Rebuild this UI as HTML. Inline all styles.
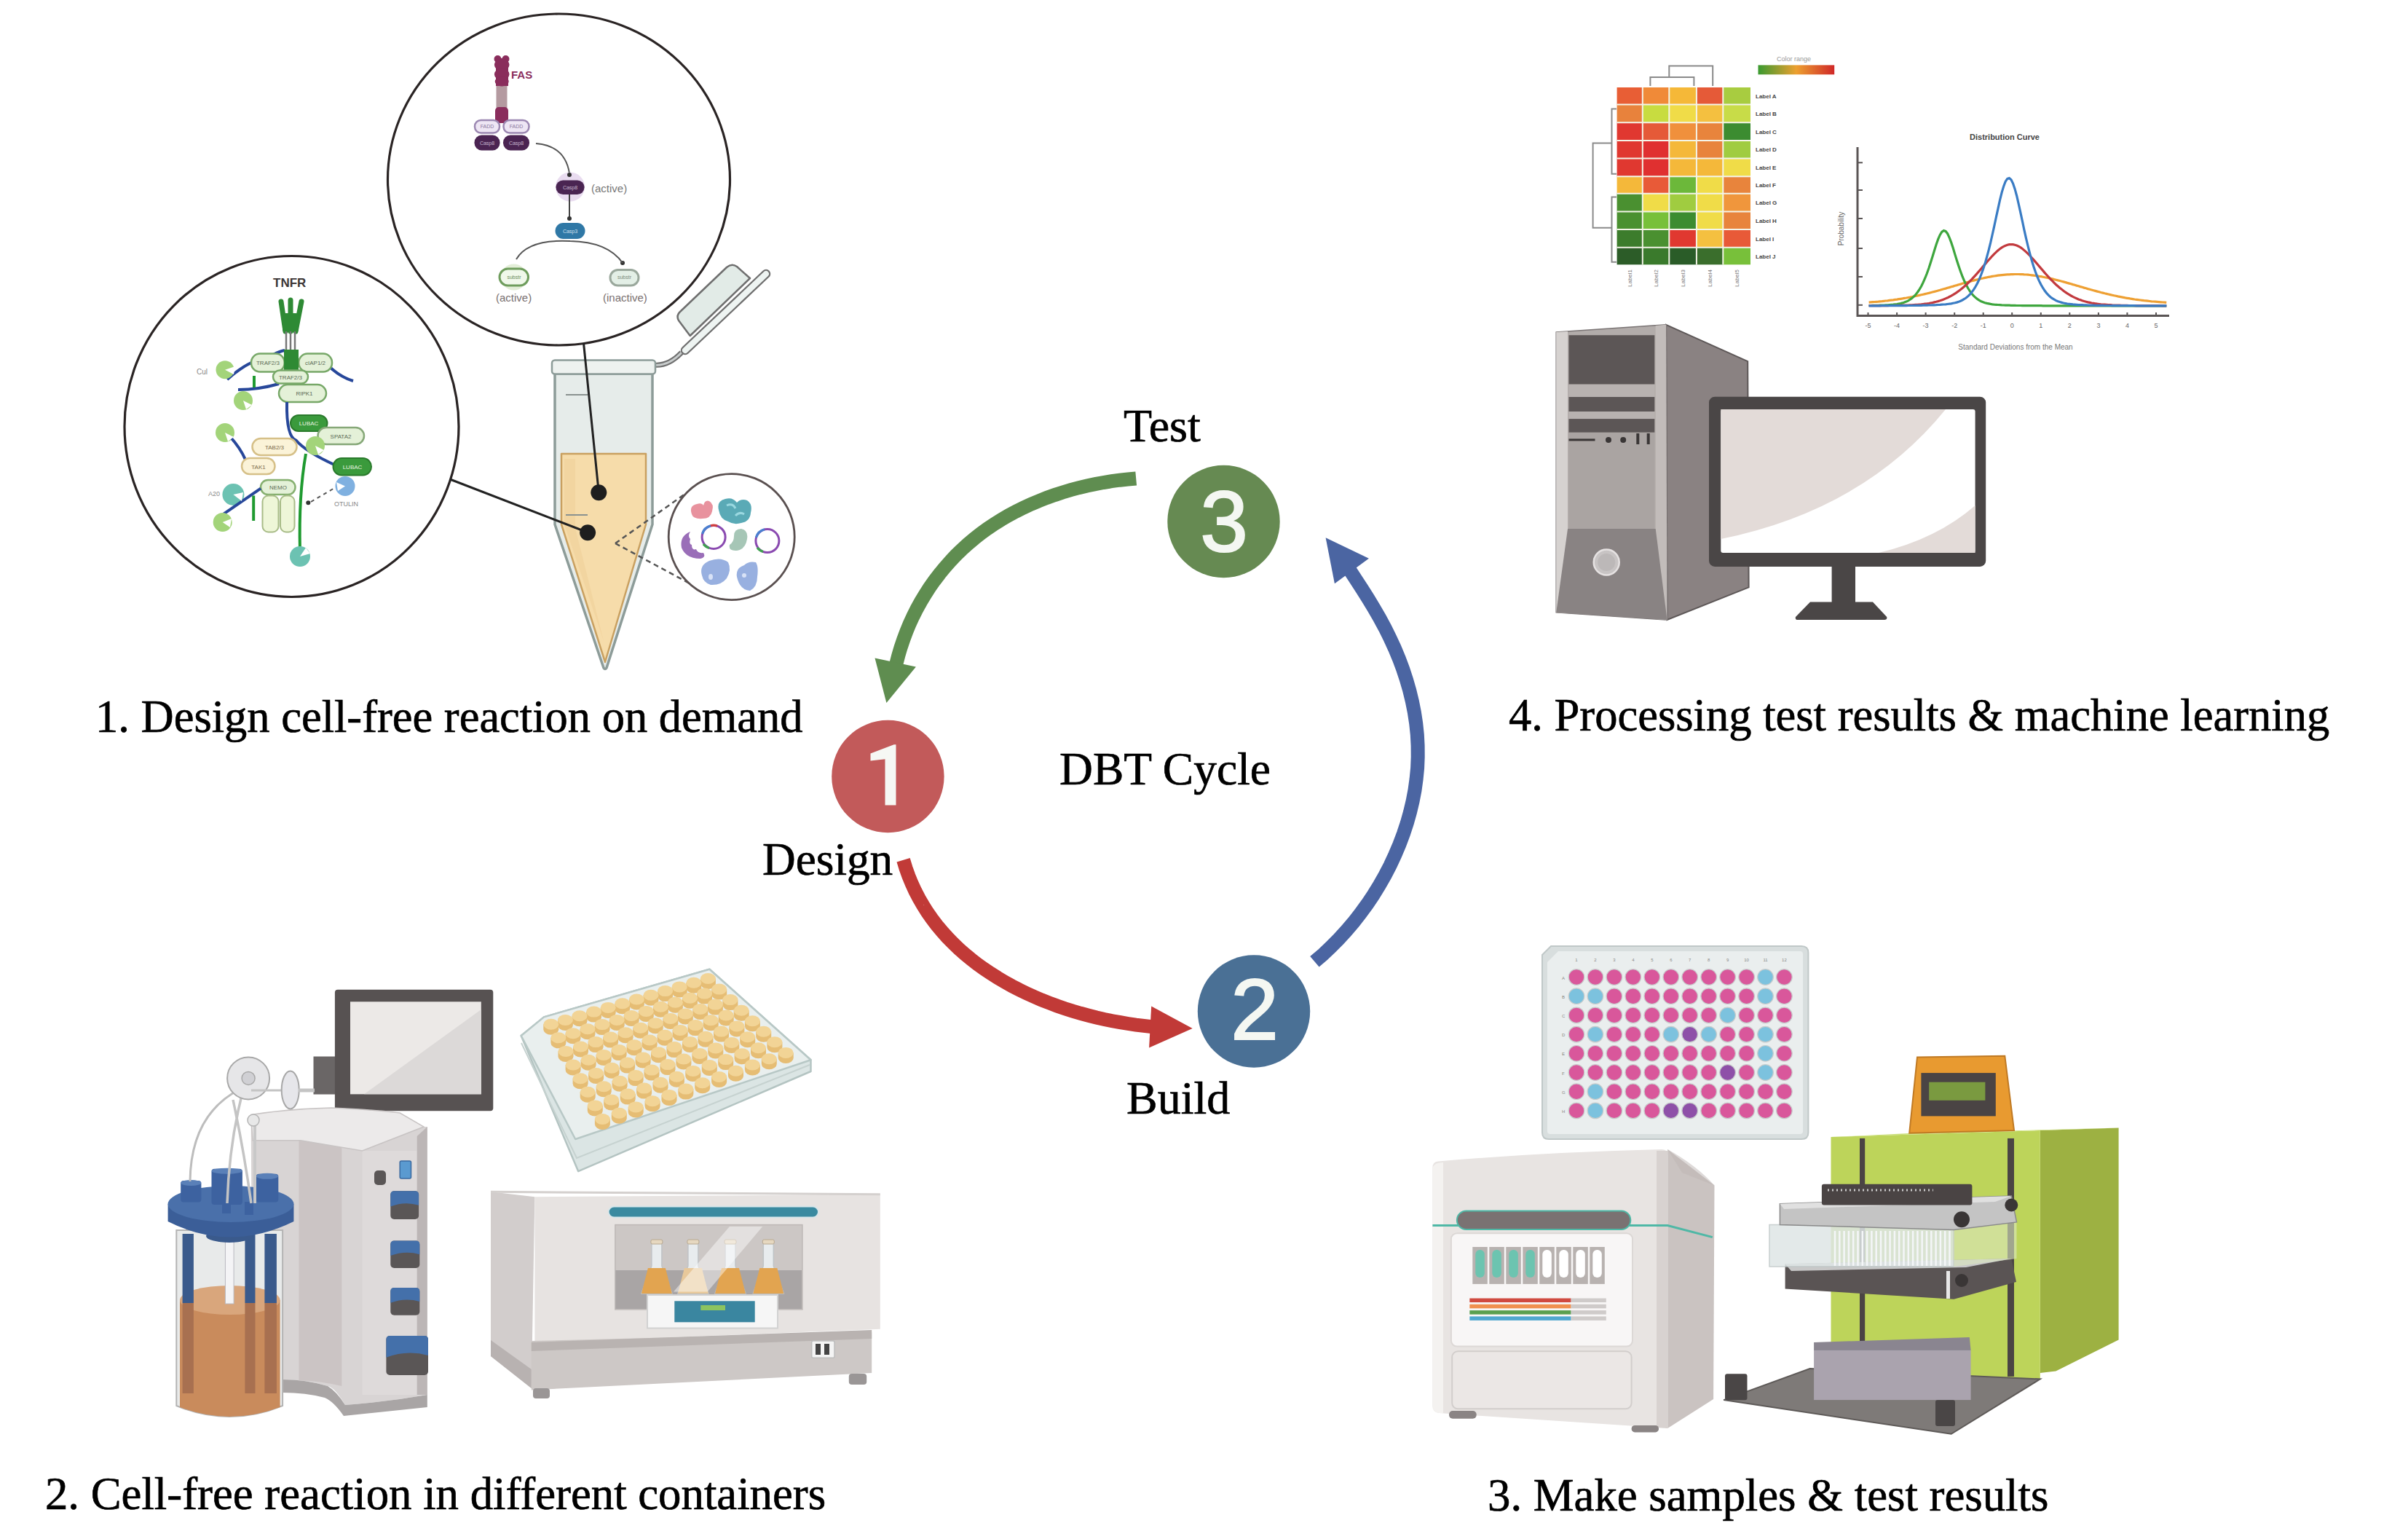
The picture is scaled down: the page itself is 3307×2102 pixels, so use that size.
<!DOCTYPE html>
<html><head><meta charset="utf-8">
<style>
html,body{margin:0;padding:0;background:#fff;}
body{width:3307px;height:2102px;overflow:hidden;position:relative;}
svg{position:absolute;left:0;top:0;}
.t{font-family:"Liberation Serif",serif;font-size:64px;fill:#000;}
.n{font-family:"Liberation Sans",sans-serif;font-size:118px;fill:#f4f7f2;text-anchor:middle;}
text{font-family:"Liberation Sans",sans-serif;}
.t{font-family:"Liberation Serif",serif;stroke:#000;stroke-width:0.7px;}
</style></head><body>
<svg width="3307" height="2102" viewBox="0 0 3307 2102">
<g id="panel1">
<!-- connector lines -->
<!-- big circles -->
<ellipse cx="767.5" cy="246.5" rx="235" ry="227.5" fill="#fff" stroke="#2a2424" stroke-width="3.2"/>
<ellipse cx="400.5" cy="585.5" rx="229.5" ry="234" fill="#fff" stroke="#2a2424" stroke-width="3.2"/>
<!-- FAS content -->
<g>
<rect x="681.5" y="118" width="15" height="30" fill="#b49aa0"/>
<rect x="681" y="80" width="17" height="38" fill="#8a2d5c"/>
<circle cx="683.5" cy="81" r="5" fill="#8a2d5c"/><circle cx="694.5" cy="81" r="5" fill="#8a2d5c"/>
<ellipse cx="689.2" cy="89" rx="10.3" ry="8" fill="#8a2d5c"/><ellipse cx="689.2" cy="102" rx="10.3" ry="8" fill="#8a2d5c"/><ellipse cx="689.2" cy="112" rx="9.5" ry="6.5" fill="#8a2d5c"/>
<rect x="680" y="147" width="18" height="22" rx="5" fill="#8a2d5c"/>
<text x="702" y="108" font-family="Liberation Sans" font-weight="bold" font-size="15" fill="#8a2d5c">FAS</text>
<rect x="652" y="165" width="34" height="17.5" rx="8.5" fill="#eee6f4" stroke="#9c88b2" stroke-width="2.5"/>
<rect x="691.5" y="165" width="35" height="17.5" rx="8.5" fill="#eee6f4" stroke="#9c88b2" stroke-width="2.5"/>
<rect x="651.5" y="185.5" width="35" height="21" rx="10" fill="#4b2452"/>
<rect x="691" y="185.5" width="36" height="21" rx="10" fill="#4b2452"/>
<path d="M736 197 Q776 200 782 238" fill="none" stroke="#555" stroke-width="2"/>
<circle cx="783" cy="256.6" r="20" fill="#e9dcf0"/>
<rect x="763.5" y="247.5" width="39" height="19.5" rx="9.7" fill="#4a2552"/>
<text x="812" y="264" font-family="Liberation Sans" font-size="15" fill="#777">(active)</text>
<line x1="782" y1="267" x2="782" y2="298" stroke="#444" stroke-width="2"/><circle cx="782" cy="300" r="3" fill="#333"/><circle cx="782" cy="240" r="3" fill="#333"/><circle cx="855" cy="361" r="3" fill="#333"/>
<rect x="762.5" y="306" width="41" height="22" rx="11" fill="#2f78a6"/>
<path d="M709 356 Q725 328 783 331 Q835 332 855 361" fill="none" stroke="#555" stroke-width="2"/>
<circle cx="705.6" cy="380.5" r="18" fill="#e3eed8"/>
<rect x="686" y="369" width="39.5" height="23" rx="11.5" fill="#f0f8ea" stroke="#6f9d5d" stroke-width="3"/>
<rect x="838" y="370.5" width="39" height="21.5" rx="10.7" fill="#e3efe6" stroke="#9aa89c" stroke-width="3"/>

<g font-family="Liberation Sans" font-size="7" text-anchor="middle">
<text x="669" y="176" fill="#8a78a0">FADD</text><text x="709" y="176" fill="#8a78a0">FADD</text>
<text x="669" y="198.5" fill="#c8b8d0">Casp8</text><text x="709" y="198.5" fill="#c8b8d0">Casp8</text>
<text x="783" y="259.5" fill="#c8b8d0">Casp8</text><text x="783" y="319.5" fill="#cfe0ee">Casp3</text>
<text x="706" y="383" fill="#6a8a5a">substr</text><text x="857.5" y="383" fill="#7a8a7a">substr</text>
</g>
<text x="681" y="414" font-family="Liberation Sans" font-size="15" fill="#7a7070">(active)</text>
<text x="828" y="414" font-family="Liberation Sans" font-size="15" fill="#7a7070">(inactive)</text>
</g>
<!-- TNFR content -->
<g>
<text x="375" y="394" font-family="Liberation Sans" font-weight="bold" font-size="17" fill="#3c3636">TNFR</text>
<path d="M386 414 L392 455 M399 412 L399 455 M414 414 L406 455" stroke="#2e8a34" stroke-width="7" stroke-linecap="round"/>
<rect x="388" y="430" width="22" height="26" rx="4" fill="#2e8a34"/>
<path d="M393 455 V505 M399 455 V505 M405 455 V505" stroke="#777" stroke-width="2.5"/>
<path d="M312 521 Q330 505 345 498 M375 487 Q385 482 391 481 M453 504 Q468 518 485 523" fill="none" stroke="#27479a" stroke-width="4"/>
<path d="M327 535 Q355 535 383 527" fill="none" stroke="#27479a" stroke-width="4"/>
<circle cx="309" cy="507.7" r="12.5" fill="#a3d47a"/>
<circle cx="334" cy="550" r="13" fill="#a3d47a"/>
<text x="270" y="514" font-family="Liberation Sans" font-size="10" fill="#888">Cul</text>
<rect x="345" y="485.5" width="45.7" height="25" rx="12" fill="#e4f1d8" stroke="#77a868" stroke-width="2.5"/>
<rect x="410.3" y="485.5" width="45.7" height="25" rx="12" fill="#e4f1d8" stroke="#77a868" stroke-width="2.5"/>
<rect x="390" y="480" width="20" height="32" fill="#2e8a34"/>
<rect x="375" y="508.5" width="48" height="18" rx="9" fill="#e4f1d8" stroke="#77a868" stroke-width="2.5"/>
<rect x="383" y="528" width="65" height="24" rx="12" fill="#e4f1d8" stroke="#77a868" stroke-width="2.5"/>
<path d="M394 552 Q393 600 407 605 Q420 620 459 638" fill="none" stroke="#27479a" stroke-width="4"/>
<path d="M349 516 V532" stroke="#1f9a30" stroke-width="4"/>
<rect x="399" y="570" width="50.5" height="22" rx="11" fill="#3a9a3c" stroke="#2a7a2c" stroke-width="2"/>
<rect x="436.5" y="587" width="63.5" height="23" rx="11.5" fill="#e4f1d8" stroke="#86a878" stroke-width="2.5"/>
<circle cx="433" cy="612" r="13" fill="#a3d47a"/>
<rect x="457.5" y="629" width="52.5" height="23.5" rx="11.7" fill="#3a9a3c" stroke="#2a7a2c" stroke-width="2"/>
<circle cx="474" cy="667.4" r="13.5" fill="#7fb0e0"/>
<circle cx="309" cy="594" r="13" fill="#a3d47a"/>
<path d="M315.5 599 Q330 615 337 631" fill="none" stroke="#27479a" stroke-width="4"/>
<rect x="346.5" y="602" width="61" height="23" rx="11.5" fill="#fbf3d8" stroke="#d6c088" stroke-width="2.5"/>
<rect x="332" y="629" width="45.5" height="22" rx="11" fill="#fbf3d8" stroke="#d6c088" stroke-width="2.5"/>
<rect x="358" y="659" width="47.5" height="20" rx="10" fill="#e4f1d8" stroke="#86b070" stroke-width="2.5"/>
<rect x="360.5" y="680.5" width="22" height="50" rx="8" fill="#eef6d8" stroke="#a8bc88" stroke-width="2"/>
<rect x="385" y="680.5" width="19.5" height="50" rx="8" fill="#eef6d8" stroke="#a8bc88" stroke-width="2"/>
<circle cx="320.4" cy="679" r="15" fill="#6cc2b2"/>
<text x="286" y="681" font-family="Liberation Sans" font-size="9" fill="#888">A20</text>
<path d="M305.7 706.6 L358 670.6" stroke="#27479a" stroke-width="4"/>
<circle cx="305.7" cy="717" r="13" fill="#a3d47a"/>
<path d="M348.2 680.5 V715" stroke="#1f9a30" stroke-width="4"/>
<path d="M420 623 Q410 680 412 756" fill="none" stroke="#1f9a30" stroke-width="4"/>
<circle cx="412" cy="764" r="14" fill="#6cc2b2"/>
<circle cx="423.3" cy="690.3" r="3" fill="#333"/>
<path d="M427 689 L461 669" stroke="#555" stroke-width="2" stroke-dasharray="5 5"/>
<text x="459" y="695" font-family="Liberation Sans" font-size="9" fill="#888">OTULIN</text>
<g font-family="Liberation Sans" font-size="8" fill="#5a6a55" text-anchor="middle">
<text x="368" y="501">TRAF2/3</text><text x="433" y="501">cIAP1/2</text><text x="399" y="520.5">TRAF2/3</text><text x="418" y="543">RIPK1</text>
<text x="424" y="584" fill="#e8f4e0">LUBAC</text><text x="468" y="601.5">SPATA2</text><text x="484" y="644" fill="#e8f4e0">LUBAC</text>
<text x="377" y="616.5" fill="#7a6a4a">TAB2/3</text><text x="355" y="643.5" fill="#7a6a4a">TAK1</text><text x="382" y="672">NEMO</text>
</g>
<g fill="#fff">
<path d="M309 507.7 L323 503 L321 514 Z"/><path d="M334 550 L346 556 L338 562 Z"/><path d="M309 594 L321 600 L313 606 Z"/>
<path d="M433 612 L445 618 L437 624 Z"/><path d="M305.7 717 L318 712 L316 724 Z"/><path d="M412 764 L420 752 L426 760 Z"/>
<path d="M474 667.4 L462 662 L464 674 Z"/><path d="M320.4 679 L334 676 L332 688 Z"/>
</g>

</g>
<!-- tube lid -->
<path d="M898 501 Q918 503 936 484" fill="none" stroke="#6f6f6f" stroke-width="7"/>
<path d="M898 501 Q918 503 936 484" fill="none" stroke="#c8cccc" stroke-width="3"/>
<path d="M941 481 L1052 376" stroke="#6f6f6f" stroke-width="12.5" stroke-linecap="round"/>
<path d="M941 481 L1052 376" stroke="#eef4f2" stroke-width="8" stroke-linecap="round"/>
<path d="M947.7 461 L932 440 Q928 433 935 427 L998 367 Q1005 361 1012 366 L1030 382 Z" fill="#e2ebe7" stroke="#6f6f6f" stroke-width="2.5" stroke-linejoin="round"/>
<!-- tube -->
<path d="M762 513 L762 720 L829 917 Q831 920 833 917 L896 720 L896 513 Z" fill="#e6ecea" stroke="#8d9c99" stroke-width="3.5"/>
<path d="M771 623 L887 623 L887 720 L831 909 L771 720 Z" fill="#f6dcaa" stroke="#c9a060" stroke-width="2.5" stroke-linejoin="round"/>
<path d="M775 630 L790 630 L790 725 L829 880 L775 720Z" fill="#f0d09a" opacity="0.6"/>
<rect x="758" y="494.5" width="142" height="19" rx="4" fill="#eef2f0" stroke="#8d9c99" stroke-width="2.5"/>
<line x1="777" y1="542" x2="807" y2="542" stroke="#8a9290" stroke-width="2"/>
<line x1="777" y1="707" x2="807" y2="707" stroke="#8a9290" stroke-width="2"/>
<line x1="618" y1="658" x2="807" y2="731" stroke="#222" stroke-width="3"/>
<line x1="801.5" y1="471" x2="822.3" y2="676" stroke="#222" stroke-width="3"/>
<circle cx="822.3" cy="676.3" r="11" fill="#1e1e1e"/>
<circle cx="807.1" cy="731.3" r="11" fill="#1e1e1e"/>
<!-- small circle -->
<path d="M845 746 L941 678 M845 746 L947 801" stroke="#555" stroke-width="2.5" stroke-dasharray="7 5"/>
<circle cx="1004.7" cy="737.1" r="86.5" fill="#fff" stroke="#5a5050" stroke-width="2.8"/>
<path d="M950 706 Q946 694 957 692 Q964 690 966 694 Q968 686 974 688 Q981 692 978 702 Q976 712 965 712 Q952 713 950 706 Z" fill="#e8929e"/>
<path d="M987 700 Q984 688 996 685 Q1006 682 1012 690 Q1018 684 1026 687 Q1034 692 1031 704 Q1030 716 1018 718 Q1008 721 1000 716 Q989 713 987 700 Z" fill="#5aaab6"/>
<path d="M998 694 Q1006 690 1010 698 M1010 708 Q1016 702 1022 706" fill="none" stroke="#9ad8e0" stroke-width="3"/>
<path d="M948 730 Q933 736 936 752 Q942 767 962 767 Q970 765 966 759 Q958 760 956 754 Q950 756 950 748 Q946 747 948 740 Q944 736 948 730 Z" fill="#9a6eb8"/>
<circle cx="980.1" cy="737.4" r="16" fill="none" stroke="#8a4ab0" stroke-width="3"/>
<path d="M964.5 733 A16 16 0 0 1 976 721.9" fill="none" stroke="#4a80d0" stroke-width="3.2"/>
<path d="M966 747 A16 16 0 0 0 974 752.5" fill="none" stroke="#40a050" stroke-width="3.2"/>
<path d="M976 721.7 A16 16 0 0 1 985 722" fill="none" stroke="#d04040" stroke-width="3.2"/>
<path d="M1002 748 Q1008 744 1008 736 Q1008 726 1018 726 Q1028 728 1026 740 Q1024 754 1012 756 Q1000 757 1002 748 Z" fill="#a6c6b6"/>
<circle cx="1053.9" cy="742.6" r="16" fill="none" stroke="#8a4ab0" stroke-width="3"/>
<path d="M1038.4 738 A16 16 0 0 1 1050 726.9" fill="none" stroke="#4a80d0" stroke-width="3.2"/>
<path d="M1040 752 A16 16 0 0 0 1048 757.5" fill="none" stroke="#40a050" stroke-width="3.2"/>
<path d="M964 790 Q960 776 974 770 Q990 764 1000 772 Q1005 782 998 794 Q990 804 976 803 Q966 800 964 790 Z" fill="#98b0e0"/>
<path d="M1012 792 Q1010 780 1022 776 Q1028 770 1038 772 Q1042 778 1040 792 Q1040 806 1030 811 Q1016 810 1012 792 Z" fill="#98b0e0"/>
<ellipse cx="976" cy="792" rx="3" ry="4" fill="#d8e2f6"/><ellipse cx="1022" cy="790" rx="3" ry="3" fill="#d8e2f6"/>
</g>
<g id="panel2">
<rect x="430.5" y="1450.5" width="31" height="52" fill="#6a6666"/>
<rect x="459.9" y="1358.8" width="217.4" height="166.5" rx="4" fill="#575252"/>
<rect x="481" y="1375.3" width="179.8" height="127" fill="#ece9e7"/>
<path d="M660.8 1386 V1502.3 H500 Z" fill="#dcd9d8"/>
<path d="M344.6 1530.5 Q400 1522 455.2 1521 Q520 1524 549.2 1528 L582.1 1547 L586.8 1547 V1915 Q530 1925 474 1929 Q460 1905 450 1903 Q420 1894 388 1894 L347 1890 Z" fill="#d8d4d4"/>
<path d="M410.5 1566 L469.3 1572 L469.3 1903 Q440 1896 410.5 1895 Z" fill="#cbc4c4"/>
<path d="M497.5 1580 H572.7 V1915 H497.5 Z" fill="#dedada"/>
<path d="M572.7 1560 L586.8 1547 V1915 H572.7 Z" fill="#bcb6b6"/>
<path d="M344.6 1530.5 Q400 1522 455.2 1521 Q520 1524 549.2 1528 L582.1 1547 L497.5 1580 L412.8 1565.7 L347 1565.7 Z" fill="#eceaea" stroke="#c8c4c4" stroke-width="1.5"/>
<path d="M388 1894 Q420 1894 450 1903 Q462 1910 474 1929 Q530 1925 586.8 1915 V1932 Q530 1938 472 1944 Q458 1924 446 1919 Q420 1912 388 1912 Z" fill="#a9a5a5"/>
<rect x="514" y="1607" width="16" height="20" rx="5" fill="#5a5656"/>
<rect x="549.2" y="1594" width="15.3" height="24" rx="2" fill="#5a9ad0" stroke="#3a6aa0" stroke-width="1.5"/>
<rect x="536.3" y="1635.3" width="38.8" height="38.7" rx="5" fill="#5a5656"/>
<path d="M536.3 1640.3 Q536.3 1635.3 541.3 1635.3 H570.1 Q575.1 1635.3 575.1 1640.3 V1654.7 Q555.7 1648.8 536.3 1656.6 Z" fill="#4470aa"/>
<rect x="536.3" y="1703.5" width="40.0" height="37.5" rx="5" fill="#5a5656"/>
<path d="M536.3 1708.5 Q536.3 1703.5 541.3 1703.5 H571.3 Q576.3 1703.5 576.3 1708.5 V1722.2 Q556.3 1716.6 536.3 1724.1 Z" fill="#4470aa"/>
<rect x="536.3" y="1768" width="40.0" height="37.8" rx="5" fill="#5a5656"/>
<path d="M536.3 1773 Q536.3 1768 541.3 1768 H571.3 Q576.3 1768 576.3 1773 V1786.9 Q556.3 1781.2 536.3 1788.8 Z" fill="#4470aa"/>
<rect x="530.4" y="1834" width="57.6" height="54.0" rx="5" fill="#5a5656"/>
<path d="M530.4 1839 Q530.4 1834 535.4 1834 H583 Q588 1834 588 1839 V1861.0 Q559.2 1852.9 530.4 1863.7 Z" fill="#4470aa"/>
<path d="M242.3 1689 V1930 Q315 1960 388.1 1930 V1689 Z" fill="#e8eaea" stroke="#b4b4b4" stroke-width="2"/>
<path d="M247 1785 V1932 Q315 1958 384.6 1932 V1785 Z" fill="#c98b5c"/>
<ellipse cx="315.8" cy="1785" rx="68.8" ry="20" fill="#d9a67c"/>
<rect x="250.6" y="1694" width="15.3" height="95" fill="#3a5a8c"/>
<rect x="250.6" y="1789" width="15.3" height="124" fill="#a87050"/>
<rect x="336.4" y="1694" width="14.1" height="95" fill="#3a5a8c"/>
<rect x="336.4" y="1789" width="14.1" height="124" fill="#a87050"/>
<rect x="363.4" y="1694" width="16.5" height="95" fill="#3a5a8c"/>
<rect x="363.4" y="1789" width="16.5" height="124" fill="#a87050"/>
<rect x="309.4" y="1700" width="11.7" height="90" fill="#f4f4f6" stroke="#b8b8c0" stroke-width="1"/>
<ellipse cx="315" cy="1697" rx="32" ry="9" fill="#3a5a8c"/>
<path d="M230.6 1653 Q316 1610 403.4 1653 V1677 Q316 1720 230.6 1677 Z" fill="#3b5e98"/>
<ellipse cx="317" cy="1653" rx="86.4" ry="25" fill="#4a70aa"/>
<rect x="248.2" y="1621" width="28.2" height="29.6" rx="4" fill="#3d62a0"/>
<ellipse cx="262.3" cy="1624" rx="14.1" ry="4" fill="#5a80b8"/>
<rect x="290.5" y="1604.7" width="42.4" height="49.3" rx="4" fill="#3d62a0"/>
<ellipse cx="311.7" cy="1607.7" rx="21.2" ry="4" fill="#5a80b8"/>
<rect x="351.7" y="1611.8" width="30.6" height="38.8" rx="4" fill="#3d62a0"/>
<ellipse cx="367.0" cy="1614.8" rx="15.3" ry="4" fill="#5a80b8"/>
<rect x="305" y="1648" width="12" height="18" fill="#3d62a0"/><rect x="336" y="1650" width="12" height="18" fill="#3d62a0"/>
<path d="M261 1622 Q262 1530 330 1495" fill="none" stroke="#bdbdbd" stroke-width="3"/>
<path d="M312 1652 Q315 1560 338 1482 M345 1652 Q335 1580 320 1510" fill="none" stroke="#c4c4c4" stroke-width="3.5"/>
<path d="M350 1652 V1535" stroke="#c8c8c8" stroke-width="4"/>
<circle cx="348" cy="1538" r="8" fill="#e8e8e8" stroke="#b4b4b4" stroke-width="1.5"/>
<circle cx="341.1" cy="1480.4" r="29" fill="#e6e6e8" stroke="#a8a8a8" stroke-width="2"/>
<circle cx="341.1" cy="1480.4" r="9" fill="#d0d0d4" stroke="#a8a8a8" stroke-width="1.5"/>
<path d="M345 1497 H420" stroke="#c4c4c4" stroke-width="3"/>
<ellipse cx="398.7" cy="1496.4" rx="12" ry="26" fill="#e6e6ea" stroke="#a8a8a8" stroke-width="2"/>
<path d="M410 1497 H432" stroke="#c4c4c4" stroke-width="5"/>
<path d="M715.7 1422 L747 1396.4 L974.4 1330.8 L1113.5 1455.2 L1113.5 1471 L794.1 1608.1 Z" fill="#dbe5e4" stroke="#b4c4c2" stroke-width="2.5" stroke-linejoin="round"/>
<path d="M715.7 1422 L747 1396.4 L974.4 1330.8 L1113.5 1455.2 L790.2 1564 Z" fill="#e9efee" stroke="#b8c8c6" stroke-width="2.5" stroke-linejoin="round"/>
<path d="M716 1432 L792 1590 L1112 1462" fill="none" stroke="#c6d2d0" stroke-width="2"/>
<path d="M961.9 1343.5 V1350.5 A10.5 7.5 0 0 0 982.9 1350.5 V1343.5 Z" fill="#e6bd74"/>
<ellipse cx="972.4" cy="1343.5" rx="10.5" ry="7.5" fill="#f2d496"/>
<path d="M942.3 1349.2 V1356.2 A10.5 7.5 0 0 0 963.3 1356.2 V1349.2 Z" fill="#e6bd74"/>
<ellipse cx="952.8" cy="1349.2" rx="10.5" ry="7.5" fill="#f2d496"/>
<path d="M922.7 1354.9 V1361.9 A10.5 7.5 0 0 0 943.7 1361.9 V1354.9 Z" fill="#e6bd74"/>
<ellipse cx="933.2" cy="1354.9" rx="10.5" ry="7.5" fill="#f2d496"/>
<path d="M977.2 1358.1 V1365.1 A10.5 7.5 0 0 0 998.2 1365.1 V1358.1 Z" fill="#e6bd74"/>
<ellipse cx="987.7" cy="1358.1" rx="10.5" ry="7.5" fill="#f2d496"/>
<path d="M903.1 1360.6 V1367.6 A10.5 7.5 0 0 0 924.1 1367.6 V1360.6 Z" fill="#e6bd74"/>
<ellipse cx="913.6" cy="1360.6" rx="10.5" ry="7.5" fill="#f2d496"/>
<path d="M957.1 1364.1 V1371.1 A10.5 7.5 0 0 0 978.1 1371.1 V1364.1 Z" fill="#e6bd74"/>
<ellipse cx="967.6" cy="1364.1" rx="10.5" ry="7.5" fill="#f2d496"/>
<path d="M883.5 1366.3 V1373.3 A10.5 7.5 0 0 0 904.5 1373.3 V1366.3 Z" fill="#e6bd74"/>
<ellipse cx="894.0" cy="1366.3" rx="10.5" ry="7.5" fill="#f2d496"/>
<path d="M937.0 1370.2 V1377.2 A10.5 7.5 0 0 0 958.0 1377.2 V1370.2 Z" fill="#e6bd74"/>
<ellipse cx="947.5" cy="1370.2" rx="10.5" ry="7.5" fill="#f2d496"/>
<path d="M863.9 1372.0 V1379.0 A10.5 7.5 0 0 0 884.9 1379.0 V1372.0 Z" fill="#e6bd74"/>
<ellipse cx="874.4" cy="1372.0" rx="10.5" ry="7.5" fill="#f2d496"/>
<path d="M992.4 1372.6 V1379.6 A10.5 7.5 0 0 0 1013.4 1379.6 V1372.6 Z" fill="#e6bd74"/>
<ellipse cx="1002.9" cy="1372.6" rx="10.5" ry="7.5" fill="#f2d496"/>
<path d="M916.9 1376.3 V1383.3 A10.5 7.5 0 0 0 937.9 1383.3 V1376.3 Z" fill="#e6bd74"/>
<ellipse cx="927.4" cy="1376.3" rx="10.5" ry="7.5" fill="#f2d496"/>
<path d="M844.3 1377.7 V1384.7 A10.5 7.5 0 0 0 865.3 1384.7 V1377.7 Z" fill="#e6bd74"/>
<ellipse cx="854.8" cy="1377.7" rx="10.5" ry="7.5" fill="#f2d496"/>
<path d="M971.9 1379.1 V1386.1 A10.5 7.5 0 0 0 992.9 1386.1 V1379.1 Z" fill="#e6bd74"/>
<ellipse cx="982.4" cy="1379.1" rx="10.5" ry="7.5" fill="#f2d496"/>
<path d="M896.9 1382.3 V1389.3 A10.5 7.5 0 0 0 917.9 1389.3 V1382.3 Z" fill="#e6bd74"/>
<ellipse cx="907.4" cy="1382.3" rx="10.5" ry="7.5" fill="#f2d496"/>
<path d="M824.7 1383.4 V1390.4 A10.5 7.5 0 0 0 845.7 1390.4 V1383.4 Z" fill="#e6bd74"/>
<ellipse cx="835.2" cy="1383.4" rx="10.5" ry="7.5" fill="#f2d496"/>
<path d="M951.3 1385.5 V1392.5 A10.5 7.5 0 0 0 972.3 1392.5 V1385.5 Z" fill="#e6bd74"/>
<ellipse cx="961.8" cy="1385.5" rx="10.5" ry="7.5" fill="#f2d496"/>
<path d="M1007.7 1387.2 V1394.2 A10.5 7.5 0 0 0 1028.7 1394.2 V1387.2 Z" fill="#e6bd74"/>
<ellipse cx="1018.2" cy="1387.2" rx="10.5" ry="7.5" fill="#f2d496"/>
<path d="M876.8 1388.4 V1395.4 A10.5 7.5 0 0 0 897.8 1395.4 V1388.4 Z" fill="#e6bd74"/>
<ellipse cx="887.3" cy="1388.4" rx="10.5" ry="7.5" fill="#f2d496"/>
<path d="M805.1 1389.1 V1396.1 A10.5 7.5 0 0 0 826.1 1396.1 V1389.1 Z" fill="#e6bd74"/>
<ellipse cx="815.6" cy="1389.1" rx="10.5" ry="7.5" fill="#f2d496"/>
<path d="M930.8 1391.9 V1398.9 A10.5 7.5 0 0 0 951.8 1398.9 V1391.9 Z" fill="#e6bd74"/>
<ellipse cx="941.3" cy="1391.9" rx="10.5" ry="7.5" fill="#f2d496"/>
<path d="M986.7 1394.0 V1401.0 A10.5 7.5 0 0 0 1007.7 1401.0 V1394.0 Z" fill="#e6bd74"/>
<ellipse cx="997.2" cy="1394.0" rx="10.5" ry="7.5" fill="#f2d496"/>
<path d="M856.7 1394.5 V1401.5 A10.5 7.5 0 0 0 877.7 1401.5 V1394.5 Z" fill="#e6bd74"/>
<ellipse cx="867.2" cy="1394.5" rx="10.5" ry="7.5" fill="#f2d496"/>
<path d="M785.5 1394.8 V1401.8 A10.5 7.5 0 0 0 806.5 1401.8 V1394.8 Z" fill="#e6bd74"/>
<ellipse cx="796.0" cy="1394.8" rx="10.5" ry="7.5" fill="#f2d496"/>
<path d="M910.3 1398.4 V1405.4 A10.5 7.5 0 0 0 931.3 1405.4 V1398.4 Z" fill="#e6bd74"/>
<ellipse cx="920.8" cy="1398.4" rx="10.5" ry="7.5" fill="#f2d496"/>
<path d="M765.9 1400.5 V1407.5 A10.5 7.5 0 0 0 786.9 1407.5 V1400.5 Z" fill="#e6bd74"/>
<ellipse cx="776.4" cy="1400.5" rx="10.5" ry="7.5" fill="#f2d496"/>
<path d="M836.7 1400.5 V1407.5 A10.5 7.5 0 0 0 857.7 1407.5 V1400.5 Z" fill="#e6bd74"/>
<ellipse cx="847.2" cy="1400.5" rx="10.5" ry="7.5" fill="#f2d496"/>
<path d="M965.7 1400.8 V1407.8 A10.5 7.5 0 0 0 986.7 1407.8 V1400.8 Z" fill="#e6bd74"/>
<ellipse cx="976.2" cy="1400.8" rx="10.5" ry="7.5" fill="#f2d496"/>
<path d="M1022.9 1401.7 V1408.7 A10.5 7.5 0 0 0 1043.9 1408.7 V1401.7 Z" fill="#e6bd74"/>
<ellipse cx="1033.4" cy="1401.7" rx="10.5" ry="7.5" fill="#f2d496"/>
<path d="M889.7 1404.8 V1411.8 A10.5 7.5 0 0 0 910.7 1411.8 V1404.8 Z" fill="#e6bd74"/>
<ellipse cx="900.2" cy="1404.8" rx="10.5" ry="7.5" fill="#f2d496"/>
<path d="M746.3 1406.2 V1413.2 A10.5 7.5 0 0 0 767.3 1413.2 V1406.2 Z" fill="#e6bd74"/>
<ellipse cx="756.8" cy="1406.2" rx="10.5" ry="7.5" fill="#f2d496"/>
<path d="M816.6 1406.6 V1413.6 A10.5 7.5 0 0 0 837.6 1413.6 V1406.6 Z" fill="#e6bd74"/>
<ellipse cx="827.1" cy="1406.6" rx="10.5" ry="7.5" fill="#f2d496"/>
<path d="M944.6 1407.6 V1414.6 A10.5 7.5 0 0 0 965.6 1414.6 V1407.6 Z" fill="#e6bd74"/>
<ellipse cx="955.1" cy="1407.6" rx="10.5" ry="7.5" fill="#f2d496"/>
<path d="M1001.4 1408.9 V1415.9 A10.5 7.5 0 0 0 1022.4 1415.9 V1408.9 Z" fill="#e6bd74"/>
<ellipse cx="1011.9" cy="1408.9" rx="10.5" ry="7.5" fill="#f2d496"/>
<path d="M869.2 1411.2 V1418.2 A10.5 7.5 0 0 0 890.2 1418.2 V1411.2 Z" fill="#e6bd74"/>
<ellipse cx="879.7" cy="1411.2" rx="10.5" ry="7.5" fill="#f2d496"/>
<path d="M796.5 1412.7 V1419.7 A10.5 7.5 0 0 0 817.5 1419.7 V1412.7 Z" fill="#e6bd74"/>
<ellipse cx="807.0" cy="1412.7" rx="10.5" ry="7.5" fill="#f2d496"/>
<path d="M923.6 1414.4 V1421.4 A10.5 7.5 0 0 0 944.6 1421.4 V1414.4 Z" fill="#e6bd74"/>
<ellipse cx="934.1" cy="1414.4" rx="10.5" ry="7.5" fill="#f2d496"/>
<path d="M980.0 1416.1 V1423.1 A10.5 7.5 0 0 0 1001.0 1423.1 V1416.1 Z" fill="#e6bd74"/>
<ellipse cx="990.5" cy="1416.1" rx="10.5" ry="7.5" fill="#f2d496"/>
<path d="M1038.2 1416.3 V1423.3 A10.5 7.5 0 0 0 1059.2 1423.3 V1416.3 Z" fill="#e6bd74"/>
<ellipse cx="1048.7" cy="1416.3" rx="10.5" ry="7.5" fill="#f2d496"/>
<path d="M848.6 1417.7 V1424.7 A10.5 7.5 0 0 0 869.6 1424.7 V1417.7 Z" fill="#e6bd74"/>
<ellipse cx="859.1" cy="1417.7" rx="10.5" ry="7.5" fill="#f2d496"/>
<path d="M776.5 1418.7 V1425.7 A10.5 7.5 0 0 0 797.5 1425.7 V1418.7 Z" fill="#e6bd74"/>
<ellipse cx="787.0" cy="1418.7" rx="10.5" ry="7.5" fill="#f2d496"/>
<path d="M902.6 1421.2 V1428.2 A10.5 7.5 0 0 0 923.6 1428.2 V1421.2 Z" fill="#e6bd74"/>
<ellipse cx="913.1" cy="1421.2" rx="10.5" ry="7.5" fill="#f2d496"/>
<path d="M958.5 1423.3 V1430.3 A10.5 7.5 0 0 0 979.5 1430.3 V1423.3 Z" fill="#e6bd74"/>
<ellipse cx="969.0" cy="1423.3" rx="10.5" ry="7.5" fill="#f2d496"/>
<path d="M1016.2 1423.8 V1430.8 A10.5 7.5 0 0 0 1037.2 1430.8 V1423.8 Z" fill="#e6bd74"/>
<ellipse cx="1026.7" cy="1423.8" rx="10.5" ry="7.5" fill="#f2d496"/>
<path d="M828.1 1424.1 V1431.1 A10.5 7.5 0 0 0 849.1 1431.1 V1424.1 Z" fill="#e6bd74"/>
<ellipse cx="838.6" cy="1424.1" rx="10.5" ry="7.5" fill="#f2d496"/>
<path d="M756.4 1424.8 V1431.8 A10.5 7.5 0 0 0 777.4 1431.8 V1424.8 Z" fill="#e6bd74"/>
<ellipse cx="766.9" cy="1424.8" rx="10.5" ry="7.5" fill="#f2d496"/>
<path d="M881.6 1428.0 V1435.0 A10.5 7.5 0 0 0 902.6 1435.0 V1428.0 Z" fill="#e6bd74"/>
<ellipse cx="892.1" cy="1428.0" rx="10.5" ry="7.5" fill="#f2d496"/>
<path d="M937.0 1430.4 V1437.4 A10.5 7.5 0 0 0 958.0 1437.4 V1430.4 Z" fill="#e6bd74"/>
<ellipse cx="947.5" cy="1430.4" rx="10.5" ry="7.5" fill="#f2d496"/>
<path d="M807.6 1430.6 V1437.6 A10.5 7.5 0 0 0 828.6 1437.6 V1430.6 Z" fill="#e6bd74"/>
<ellipse cx="818.1" cy="1430.6" rx="10.5" ry="7.5" fill="#f2d496"/>
<path d="M1053.4 1430.8 V1437.8 A10.5 7.5 0 0 0 1074.4 1437.8 V1430.8 Z" fill="#e6bd74"/>
<ellipse cx="1063.9" cy="1430.8" rx="10.5" ry="7.5" fill="#f2d496"/>
<path d="M994.3 1431.4 V1438.4 A10.5 7.5 0 0 0 1015.3 1438.4 V1431.4 Z" fill="#e6bd74"/>
<ellipse cx="1004.8" cy="1431.4" rx="10.5" ry="7.5" fill="#f2d496"/>
<path d="M860.6 1434.8 V1441.8 A10.5 7.5 0 0 0 881.6 1441.8 V1434.8 Z" fill="#e6bd74"/>
<ellipse cx="871.1" cy="1434.8" rx="10.5" ry="7.5" fill="#f2d496"/>
<path d="M787.0 1437.0 V1444.0 A10.5 7.5 0 0 0 808.0 1444.0 V1437.0 Z" fill="#e6bd74"/>
<ellipse cx="797.5" cy="1437.0" rx="10.5" ry="7.5" fill="#f2d496"/>
<path d="M915.5 1437.6 V1444.6 A10.5 7.5 0 0 0 936.5 1444.6 V1437.6 Z" fill="#e6bd74"/>
<ellipse cx="926.0" cy="1437.6" rx="10.5" ry="7.5" fill="#f2d496"/>
<path d="M1031.0 1438.8 V1445.8 A10.5 7.5 0 0 0 1052.0 1445.8 V1438.8 Z" fill="#e6bd74"/>
<ellipse cx="1041.5" cy="1438.8" rx="10.5" ry="7.5" fill="#f2d496"/>
<path d="M972.3 1438.9 V1445.9 A10.5 7.5 0 0 0 993.3 1445.9 V1438.9 Z" fill="#e6bd74"/>
<ellipse cx="982.8" cy="1438.9" rx="10.5" ry="7.5" fill="#f2d496"/>
<path d="M839.6 1441.6 V1448.6 A10.5 7.5 0 0 0 860.6 1448.6 V1441.6 Z" fill="#e6bd74"/>
<ellipse cx="850.1" cy="1441.6" rx="10.5" ry="7.5" fill="#f2d496"/>
<path d="M766.5 1443.4 V1450.4 A10.5 7.5 0 0 0 787.5 1450.4 V1443.4 Z" fill="#e6bd74"/>
<ellipse cx="777.0" cy="1443.4" rx="10.5" ry="7.5" fill="#f2d496"/>
<path d="M894.0 1444.8 V1451.8 A10.5 7.5 0 0 0 915.0 1451.8 V1444.8 Z" fill="#e6bd74"/>
<ellipse cx="904.5" cy="1444.8" rx="10.5" ry="7.5" fill="#f2d496"/>
<path d="M1068.7 1445.4 V1452.4 A10.5 7.5 0 0 0 1089.7 1452.4 V1445.4 Z" fill="#e6bd74"/>
<ellipse cx="1079.2" cy="1445.4" rx="10.5" ry="7.5" fill="#f2d496"/>
<path d="M950.4 1446.5 V1453.5 A10.5 7.5 0 0 0 971.4 1453.5 V1446.5 Z" fill="#e6bd74"/>
<ellipse cx="960.9" cy="1446.5" rx="10.5" ry="7.5" fill="#f2d496"/>
<path d="M1008.6 1446.7 V1453.7 A10.5 7.5 0 0 0 1029.6 1453.7 V1446.7 Z" fill="#e6bd74"/>
<ellipse cx="1019.1" cy="1446.7" rx="10.5" ry="7.5" fill="#f2d496"/>
<path d="M818.6 1448.4 V1455.4 A10.5 7.5 0 0 0 839.6 1455.4 V1448.4 Z" fill="#e6bd74"/>
<ellipse cx="829.1" cy="1448.4" rx="10.5" ry="7.5" fill="#f2d496"/>
<path d="M872.6 1452.0 V1459.0 A10.5 7.5 0 0 0 893.6 1459.0 V1452.0 Z" fill="#e6bd74"/>
<ellipse cx="883.1" cy="1452.0" rx="10.5" ry="7.5" fill="#f2d496"/>
<path d="M1045.8 1453.7 V1460.7 A10.5 7.5 0 0 0 1066.8 1460.7 V1453.7 Z" fill="#e6bd74"/>
<ellipse cx="1056.3" cy="1453.7" rx="10.5" ry="7.5" fill="#f2d496"/>
<path d="M928.4 1454.0 V1461.0 A10.5 7.5 0 0 0 949.4 1461.0 V1454.0 Z" fill="#e6bd74"/>
<ellipse cx="938.9" cy="1454.0" rx="10.5" ry="7.5" fill="#f2d496"/>
<path d="M986.2 1454.6 V1461.6 A10.5 7.5 0 0 0 1007.2 1461.6 V1454.6 Z" fill="#e6bd74"/>
<ellipse cx="996.7" cy="1454.6" rx="10.5" ry="7.5" fill="#f2d496"/>
<path d="M797.6 1455.2 V1462.2 A10.5 7.5 0 0 0 818.6 1462.2 V1455.2 Z" fill="#e6bd74"/>
<ellipse cx="808.1" cy="1455.2" rx="10.5" ry="7.5" fill="#f2d496"/>
<path d="M851.1 1459.1 V1466.1 A10.5 7.5 0 0 0 872.1 1466.1 V1459.1 Z" fill="#e6bd74"/>
<ellipse cx="861.6" cy="1459.1" rx="10.5" ry="7.5" fill="#f2d496"/>
<path d="M906.5 1461.6 V1468.6 A10.5 7.5 0 0 0 927.5 1468.6 V1461.6 Z" fill="#e6bd74"/>
<ellipse cx="917.0" cy="1461.6" rx="10.5" ry="7.5" fill="#f2d496"/>
<path d="M1022.9 1462.0 V1469.0 A10.5 7.5 0 0 0 1043.9 1469.0 V1462.0 Z" fill="#e6bd74"/>
<ellipse cx="1033.4" cy="1462.0" rx="10.5" ry="7.5" fill="#f2d496"/>
<path d="M776.6 1462.0 V1469.0 A10.5 7.5 0 0 0 797.6 1469.0 V1462.0 Z" fill="#e6bd74"/>
<ellipse cx="787.1" cy="1462.0" rx="10.5" ry="7.5" fill="#f2d496"/>
<path d="M963.8 1462.5 V1469.5 A10.5 7.5 0 0 0 984.8 1469.5 V1462.5 Z" fill="#e6bd74"/>
<ellipse cx="974.3" cy="1462.5" rx="10.5" ry="7.5" fill="#f2d496"/>
<path d="M829.6 1466.3 V1473.3 A10.5 7.5 0 0 0 850.6 1473.3 V1466.3 Z" fill="#e6bd74"/>
<ellipse cx="840.1" cy="1466.3" rx="10.5" ry="7.5" fill="#f2d496"/>
<path d="M884.5 1469.1 V1476.1 A10.5 7.5 0 0 0 905.5 1476.1 V1469.1 Z" fill="#e6bd74"/>
<ellipse cx="895.0" cy="1469.1" rx="10.5" ry="7.5" fill="#f2d496"/>
<path d="M1000.0 1470.2 V1477.2 A10.5 7.5 0 0 0 1021.0 1477.2 V1470.2 Z" fill="#e6bd74"/>
<ellipse cx="1010.5" cy="1470.2" rx="10.5" ry="7.5" fill="#f2d496"/>
<path d="M941.3 1470.4 V1477.4 A10.5 7.5 0 0 0 962.3 1477.4 V1470.4 Z" fill="#e6bd74"/>
<ellipse cx="951.8" cy="1470.4" rx="10.5" ry="7.5" fill="#f2d496"/>
<path d="M808.1 1473.5 V1480.5 A10.5 7.5 0 0 0 829.1 1480.5 V1473.5 Z" fill="#e6bd74"/>
<ellipse cx="818.6" cy="1473.5" rx="10.5" ry="7.5" fill="#f2d496"/>
<path d="M862.6 1476.6 V1483.6 A10.5 7.5 0 0 0 883.6 1483.6 V1476.6 Z" fill="#e6bd74"/>
<ellipse cx="873.1" cy="1476.6" rx="10.5" ry="7.5" fill="#f2d496"/>
<path d="M918.9 1478.3 V1485.3 A10.5 7.5 0 0 0 939.9 1485.3 V1478.3 Z" fill="#e6bd74"/>
<ellipse cx="929.4" cy="1478.3" rx="10.5" ry="7.5" fill="#f2d496"/>
<path d="M977.1 1478.5 V1485.5 A10.5 7.5 0 0 0 998.1 1485.5 V1478.5 Z" fill="#e6bd74"/>
<ellipse cx="987.6" cy="1478.5" rx="10.5" ry="7.5" fill="#f2d496"/>
<path d="M786.6 1480.7 V1487.7 A10.5 7.5 0 0 0 807.6 1487.7 V1480.7 Z" fill="#e6bd74"/>
<ellipse cx="797.1" cy="1480.7" rx="10.5" ry="7.5" fill="#f2d496"/>
<path d="M840.6 1484.2 V1491.2 A10.5 7.5 0 0 0 861.6 1491.2 V1484.2 Z" fill="#e6bd74"/>
<ellipse cx="851.1" cy="1484.2" rx="10.5" ry="7.5" fill="#f2d496"/>
<path d="M896.5 1486.2 V1493.2 A10.5 7.5 0 0 0 917.5 1493.2 V1486.2 Z" fill="#e6bd74"/>
<ellipse cx="907.0" cy="1486.2" rx="10.5" ry="7.5" fill="#f2d496"/>
<path d="M954.2 1486.8 V1493.8 A10.5 7.5 0 0 0 975.2 1493.8 V1486.8 Z" fill="#e6bd74"/>
<ellipse cx="964.7" cy="1486.8" rx="10.5" ry="7.5" fill="#f2d496"/>
<path d="M818.7 1491.7 V1498.7 A10.5 7.5 0 0 0 839.7 1498.7 V1491.7 Z" fill="#e6bd74"/>
<ellipse cx="829.2" cy="1491.7" rx="10.5" ry="7.5" fill="#f2d496"/>
<path d="M874.1 1494.1 V1501.1 A10.5 7.5 0 0 0 895.1 1501.1 V1494.1 Z" fill="#e6bd74"/>
<ellipse cx="884.6" cy="1494.1" rx="10.5" ry="7.5" fill="#f2d496"/>
<path d="M931.4 1495.1 V1502.1 A10.5 7.5 0 0 0 952.4 1502.1 V1495.1 Z" fill="#e6bd74"/>
<ellipse cx="941.9" cy="1495.1" rx="10.5" ry="7.5" fill="#f2d496"/>
<path d="M796.7 1499.3 V1506.3 A10.5 7.5 0 0 0 817.7 1506.3 V1499.3 Z" fill="#e6bd74"/>
<ellipse cx="807.2" cy="1499.3" rx="10.5" ry="7.5" fill="#f2d496"/>
<path d="M851.7 1502.1 V1509.1 A10.5 7.5 0 0 0 872.7 1509.1 V1502.1 Z" fill="#e6bd74"/>
<ellipse cx="862.2" cy="1502.1" rx="10.5" ry="7.5" fill="#f2d496"/>
<path d="M908.5 1503.4 V1510.4 A10.5 7.5 0 0 0 929.5 1510.4 V1503.4 Z" fill="#e6bd74"/>
<ellipse cx="919.0" cy="1503.4" rx="10.5" ry="7.5" fill="#f2d496"/>
<path d="M829.2 1510.0 V1517.0 A10.5 7.5 0 0 0 850.2 1517.0 V1510.0 Z" fill="#e6bd74"/>
<ellipse cx="839.7" cy="1510.0" rx="10.5" ry="7.5" fill="#f2d496"/>
<path d="M885.6 1511.7 V1518.7 A10.5 7.5 0 0 0 906.6 1518.7 V1511.7 Z" fill="#e6bd74"/>
<ellipse cx="896.1" cy="1511.7" rx="10.5" ry="7.5" fill="#f2d496"/>
<path d="M806.8 1517.9 V1524.9 A10.5 7.5 0 0 0 827.8 1524.9 V1517.9 Z" fill="#e6bd74"/>
<ellipse cx="817.3" cy="1517.9" rx="10.5" ry="7.5" fill="#f2d496"/>
<path d="M862.7 1519.9 V1526.9 A10.5 7.5 0 0 0 883.7 1526.9 V1519.9 Z" fill="#e6bd74"/>
<ellipse cx="873.2" cy="1519.9" rx="10.5" ry="7.5" fill="#f2d496"/>
<path d="M839.8 1528.2 V1535.2 A10.5 7.5 0 0 0 860.8 1535.2 V1528.2 Z" fill="#e6bd74"/>
<ellipse cx="850.3" cy="1528.2" rx="10.5" ry="7.5" fill="#f2d496"/>
<path d="M816.9 1536.5 V1543.5 A10.5 7.5 0 0 0 837.9 1543.5 V1536.5 Z" fill="#e6bd74"/>
<ellipse cx="827.4" cy="1536.5" rx="10.5" ry="7.5" fill="#f2d496"/>
<path d="M674 1636.3 L734.4 1643.3 L729.8 1906 L674 1861.9 Z" fill="#d2cdcc"/>
<path d="M674 1840 L729.8 1880 L729.8 1906 L674 1861.9 Z" fill="#b8b2b1"/>
<path d="M734.4 1643.3 L1208.8 1639.8 L1208.8 1824.7 L734.4 1843.3 Z" fill="#e7e3e1"/>
<path d="M674 1636.3 L1208.8 1639.8" stroke="#d4d0ce" stroke-width="3"/>
<path d="M729.8 1841 L1197.2 1829.3 L1197.2 1885 L729.8 1908.4 Z" fill="#cdc8c6"/>
<path d="M729.8 1843 L1197.2 1826 L1197.2 1838 L729.8 1855 Z" fill="#b9b3b1"/>
<rect x="732" y="1906" width="23" height="14" rx="4" fill="#9a9696"/>
<rect x="1165.8" y="1886" width="24.4" height="15" rx="4" fill="#9a9696"/>
<rect x="1114.7" y="1841" width="31.3" height="23.2" rx="2" fill="#f4f4f4" stroke="#bdbdbd" stroke-width="1.5"/>
<rect x="1120" y="1845" width="7" height="15" fill="#444"/><rect x="1132" y="1845" width="7" height="15" fill="#444"/>
<rect x="835.6" y="1656.5" width="288.4" height="15" rx="7.5" fill="#3a8aa0" stroke="#d8e6ea" stroke-width="2"/>
<rect x="844.9" y="1681.6" width="257" height="116.3" fill="#ccc7c5" stroke="#bdb8b6" stroke-width="1.5"/>
<path d="M845.6 1744 L1101 1744 L1101 1770 L845.6 1797 Z" fill="#a9a5a5"/>
<path d="M845.6 1744 H1101 V1797 H845.6 Z" fill="#a9a5a5"/>
<path d="M894.9 1706 V1738 L880.9 1776 H922.9 L908.9 1738 V1706 Z" fill="#e8ecee" stroke="#c0c4c6" stroke-width="1.5"/>
<path d="M889.9 1741 L880.9 1776 H922.9 L913.9 1741 Z" fill="#e2a450"/>
<rect x="893.9" y="1702" width="16" height="6" rx="2" fill="#e6d8c0" stroke="#b8a890" stroke-width="1"/>
<path d="M944.9 1706 V1738 L930.9 1776 H972.9 L958.9 1738 V1706 Z" fill="#e8ecee" stroke="#c0c4c6" stroke-width="1.5"/>
<path d="M939.9 1741 L930.9 1776 H972.9 L963.9 1741 Z" fill="#e8c89a"/>
<rect x="943.9" y="1702" width="16" height="6" rx="2" fill="#e6d8c0" stroke="#b8a890" stroke-width="1"/>
<path d="M996 1706 V1738 L982 1776 H1024 L1010 1738 V1706 Z" fill="#e8ecee" stroke="#c0c4c6" stroke-width="1.5"/>
<path d="M991 1741 L982 1776 H1024 L1015 1741 Z" fill="#e2a450"/>
<rect x="995" y="1702" width="16" height="6" rx="2" fill="#e6d8c0" stroke="#b8a890" stroke-width="1"/>
<path d="M1048.3 1706 V1738 L1034.3 1776 H1076.3 L1062.3 1738 V1706 Z" fill="#e8ecee" stroke="#c0c4c6" stroke-width="1.5"/>
<path d="M1043.3 1741 L1034.3 1776 H1076.3 L1067.3 1741 Z" fill="#e2a450"/>
<rect x="1047.3" y="1702" width="16" height="6" rx="2" fill="#e6d8c0" stroke="#b8a890" stroke-width="1"/>
<path d="M925 1773.5 L1001.9 1684 L1047.2 1684 L971.6 1773.5 Z" fill="#ffffff" opacity="0.45"/>
<rect x="889" y="1778" width="179" height="45.5" fill="#f6f6f6" stroke="#d2d2d2" stroke-width="2"/>
<rect x="926.3" y="1786.3" width="110.4" height="29" fill="#3a86a0"/>
<rect x="962.3" y="1792" width="33.7" height="7" fill="#8cc460"/>
</g><g id="panel3">
<path d="M2130 1299 H2474 Q2483.4 1299 2483.4 1308 V1555 Q2483.4 1564 2474 1564 H2127 Q2118 1564 2118 1555 V1311 Z" fill="#d8dede" stroke="#c0c8c8" stroke-width="2"/>
<path d="M2140 1306 H2472 Q2476 1306 2476 1310 V1553 Q2476 1557 2472 1557 H2129 Q2125 1557 2125 1553 V1321 Z" fill="#eaeeee"/>
<circle cx="2165.0" cy="1341.5" r="10.8" fill="#d9579b" stroke="#c8cccc" stroke-width="1.2"/>
<circle cx="2190.9" cy="1341.5" r="10.8" fill="#d9579b" stroke="#c8cccc" stroke-width="1.2"/>
<circle cx="2216.9" cy="1341.5" r="10.8" fill="#d9579b" stroke="#c8cccc" stroke-width="1.2"/>
<circle cx="2242.8" cy="1341.5" r="10.8" fill="#d9579b" stroke="#c8cccc" stroke-width="1.2"/>
<circle cx="2268.8" cy="1341.5" r="10.8" fill="#d9579b" stroke="#c8cccc" stroke-width="1.2"/>
<circle cx="2294.8" cy="1341.5" r="10.8" fill="#d9579b" stroke="#c8cccc" stroke-width="1.2"/>
<circle cx="2320.7" cy="1341.5" r="10.8" fill="#d9579b" stroke="#c8cccc" stroke-width="1.2"/>
<circle cx="2346.7" cy="1341.5" r="10.8" fill="#d9579b" stroke="#c8cccc" stroke-width="1.2"/>
<circle cx="2372.6" cy="1341.5" r="10.8" fill="#d9579b" stroke="#c8cccc" stroke-width="1.2"/>
<circle cx="2398.6" cy="1341.5" r="10.8" fill="#d9579b" stroke="#c8cccc" stroke-width="1.2"/>
<circle cx="2424.5" cy="1341.5" r="10.8" fill="#7cc2de" stroke="#c8cccc" stroke-width="1.2"/>
<circle cx="2450.4" cy="1341.5" r="10.8" fill="#d9579b" stroke="#c8cccc" stroke-width="1.2"/>
<text x="2145" y="1344.5" font-size="6" fill="#888">A</text>
<circle cx="2165.0" cy="1367.7" r="10.8" fill="#7cc2de" stroke="#c8cccc" stroke-width="1.2"/>
<circle cx="2190.9" cy="1367.7" r="10.8" fill="#7cc2de" stroke="#c8cccc" stroke-width="1.2"/>
<circle cx="2216.9" cy="1367.7" r="10.8" fill="#d9579b" stroke="#c8cccc" stroke-width="1.2"/>
<circle cx="2242.8" cy="1367.7" r="10.8" fill="#d9579b" stroke="#c8cccc" stroke-width="1.2"/>
<circle cx="2268.8" cy="1367.7" r="10.8" fill="#d9579b" stroke="#c8cccc" stroke-width="1.2"/>
<circle cx="2294.8" cy="1367.7" r="10.8" fill="#d9579b" stroke="#c8cccc" stroke-width="1.2"/>
<circle cx="2320.7" cy="1367.7" r="10.8" fill="#d9579b" stroke="#c8cccc" stroke-width="1.2"/>
<circle cx="2346.7" cy="1367.7" r="10.8" fill="#d9579b" stroke="#c8cccc" stroke-width="1.2"/>
<circle cx="2372.6" cy="1367.7" r="10.8" fill="#d9579b" stroke="#c8cccc" stroke-width="1.2"/>
<circle cx="2398.6" cy="1367.7" r="10.8" fill="#d9579b" stroke="#c8cccc" stroke-width="1.2"/>
<circle cx="2424.5" cy="1367.7" r="10.8" fill="#7cc2de" stroke="#c8cccc" stroke-width="1.2"/>
<circle cx="2450.4" cy="1367.7" r="10.8" fill="#d9579b" stroke="#c8cccc" stroke-width="1.2"/>
<text x="2145" y="1370.7" font-size="6" fill="#888">B</text>
<circle cx="2165.0" cy="1393.9" r="10.8" fill="#d9579b" stroke="#c8cccc" stroke-width="1.2"/>
<circle cx="2190.9" cy="1393.9" r="10.8" fill="#d9579b" stroke="#c8cccc" stroke-width="1.2"/>
<circle cx="2216.9" cy="1393.9" r="10.8" fill="#d9579b" stroke="#c8cccc" stroke-width="1.2"/>
<circle cx="2242.8" cy="1393.9" r="10.8" fill="#d9579b" stroke="#c8cccc" stroke-width="1.2"/>
<circle cx="2268.8" cy="1393.9" r="10.8" fill="#d9579b" stroke="#c8cccc" stroke-width="1.2"/>
<circle cx="2294.8" cy="1393.9" r="10.8" fill="#d9579b" stroke="#c8cccc" stroke-width="1.2"/>
<circle cx="2320.7" cy="1393.9" r="10.8" fill="#d9579b" stroke="#c8cccc" stroke-width="1.2"/>
<circle cx="2346.7" cy="1393.9" r="10.8" fill="#d9579b" stroke="#c8cccc" stroke-width="1.2"/>
<circle cx="2372.6" cy="1393.9" r="10.8" fill="#7cc2de" stroke="#c8cccc" stroke-width="1.2"/>
<circle cx="2398.6" cy="1393.9" r="10.8" fill="#d9579b" stroke="#c8cccc" stroke-width="1.2"/>
<circle cx="2424.5" cy="1393.9" r="10.8" fill="#d9579b" stroke="#c8cccc" stroke-width="1.2"/>
<circle cx="2450.4" cy="1393.9" r="10.8" fill="#d9579b" stroke="#c8cccc" stroke-width="1.2"/>
<text x="2145" y="1396.9" font-size="6" fill="#888">C</text>
<circle cx="2165.0" cy="1420.1" r="10.8" fill="#d9579b" stroke="#c8cccc" stroke-width="1.2"/>
<circle cx="2190.9" cy="1420.1" r="10.8" fill="#7cc2de" stroke="#c8cccc" stroke-width="1.2"/>
<circle cx="2216.9" cy="1420.1" r="10.8" fill="#d9579b" stroke="#c8cccc" stroke-width="1.2"/>
<circle cx="2242.8" cy="1420.1" r="10.8" fill="#d9579b" stroke="#c8cccc" stroke-width="1.2"/>
<circle cx="2268.8" cy="1420.1" r="10.8" fill="#d9579b" stroke="#c8cccc" stroke-width="1.2"/>
<circle cx="2294.8" cy="1420.1" r="10.8" fill="#7cc2de" stroke="#c8cccc" stroke-width="1.2"/>
<circle cx="2320.7" cy="1420.1" r="10.8" fill="#8e50a8" stroke="#c8cccc" stroke-width="1.2"/>
<circle cx="2346.7" cy="1420.1" r="10.8" fill="#7cc2de" stroke="#c8cccc" stroke-width="1.2"/>
<circle cx="2372.6" cy="1420.1" r="10.8" fill="#d9579b" stroke="#c8cccc" stroke-width="1.2"/>
<circle cx="2398.6" cy="1420.1" r="10.8" fill="#d9579b" stroke="#c8cccc" stroke-width="1.2"/>
<circle cx="2424.5" cy="1420.1" r="10.8" fill="#7cc2de" stroke="#c8cccc" stroke-width="1.2"/>
<circle cx="2450.4" cy="1420.1" r="10.8" fill="#d9579b" stroke="#c8cccc" stroke-width="1.2"/>
<text x="2145" y="1423.1" font-size="6" fill="#888">D</text>
<circle cx="2165.0" cy="1446.3" r="10.8" fill="#d9579b" stroke="#c8cccc" stroke-width="1.2"/>
<circle cx="2190.9" cy="1446.3" r="10.8" fill="#d9579b" stroke="#c8cccc" stroke-width="1.2"/>
<circle cx="2216.9" cy="1446.3" r="10.8" fill="#d9579b" stroke="#c8cccc" stroke-width="1.2"/>
<circle cx="2242.8" cy="1446.3" r="10.8" fill="#d9579b" stroke="#c8cccc" stroke-width="1.2"/>
<circle cx="2268.8" cy="1446.3" r="10.8" fill="#d9579b" stroke="#c8cccc" stroke-width="1.2"/>
<circle cx="2294.8" cy="1446.3" r="10.8" fill="#d9579b" stroke="#c8cccc" stroke-width="1.2"/>
<circle cx="2320.7" cy="1446.3" r="10.8" fill="#d9579b" stroke="#c8cccc" stroke-width="1.2"/>
<circle cx="2346.7" cy="1446.3" r="10.8" fill="#d9579b" stroke="#c8cccc" stroke-width="1.2"/>
<circle cx="2372.6" cy="1446.3" r="10.8" fill="#d9579b" stroke="#c8cccc" stroke-width="1.2"/>
<circle cx="2398.6" cy="1446.3" r="10.8" fill="#d9579b" stroke="#c8cccc" stroke-width="1.2"/>
<circle cx="2424.5" cy="1446.3" r="10.8" fill="#7cc2de" stroke="#c8cccc" stroke-width="1.2"/>
<circle cx="2450.4" cy="1446.3" r="10.8" fill="#d9579b" stroke="#c8cccc" stroke-width="1.2"/>
<text x="2145" y="1449.3" font-size="6" fill="#888">E</text>
<circle cx="2165.0" cy="1472.5" r="10.8" fill="#d9579b" stroke="#c8cccc" stroke-width="1.2"/>
<circle cx="2190.9" cy="1472.5" r="10.8" fill="#d9579b" stroke="#c8cccc" stroke-width="1.2"/>
<circle cx="2216.9" cy="1472.5" r="10.8" fill="#d9579b" stroke="#c8cccc" stroke-width="1.2"/>
<circle cx="2242.8" cy="1472.5" r="10.8" fill="#d9579b" stroke="#c8cccc" stroke-width="1.2"/>
<circle cx="2268.8" cy="1472.5" r="10.8" fill="#d9579b" stroke="#c8cccc" stroke-width="1.2"/>
<circle cx="2294.8" cy="1472.5" r="10.8" fill="#d9579b" stroke="#c8cccc" stroke-width="1.2"/>
<circle cx="2320.7" cy="1472.5" r="10.8" fill="#d9579b" stroke="#c8cccc" stroke-width="1.2"/>
<circle cx="2346.7" cy="1472.5" r="10.8" fill="#d9579b" stroke="#c8cccc" stroke-width="1.2"/>
<circle cx="2372.6" cy="1472.5" r="10.8" fill="#8e50a8" stroke="#c8cccc" stroke-width="1.2"/>
<circle cx="2398.6" cy="1472.5" r="10.8" fill="#d9579b" stroke="#c8cccc" stroke-width="1.2"/>
<circle cx="2424.5" cy="1472.5" r="10.8" fill="#7cc2de" stroke="#c8cccc" stroke-width="1.2"/>
<circle cx="2450.4" cy="1472.5" r="10.8" fill="#d9579b" stroke="#c8cccc" stroke-width="1.2"/>
<text x="2145" y="1475.5" font-size="6" fill="#888">F</text>
<circle cx="2165.0" cy="1498.7" r="10.8" fill="#d9579b" stroke="#c8cccc" stroke-width="1.2"/>
<circle cx="2190.9" cy="1498.7" r="10.8" fill="#7cc2de" stroke="#c8cccc" stroke-width="1.2"/>
<circle cx="2216.9" cy="1498.7" r="10.8" fill="#d9579b" stroke="#c8cccc" stroke-width="1.2"/>
<circle cx="2242.8" cy="1498.7" r="10.8" fill="#d9579b" stroke="#c8cccc" stroke-width="1.2"/>
<circle cx="2268.8" cy="1498.7" r="10.8" fill="#d9579b" stroke="#c8cccc" stroke-width="1.2"/>
<circle cx="2294.8" cy="1498.7" r="10.8" fill="#d9579b" stroke="#c8cccc" stroke-width="1.2"/>
<circle cx="2320.7" cy="1498.7" r="10.8" fill="#d9579b" stroke="#c8cccc" stroke-width="1.2"/>
<circle cx="2346.7" cy="1498.7" r="10.8" fill="#d9579b" stroke="#c8cccc" stroke-width="1.2"/>
<circle cx="2372.6" cy="1498.7" r="10.8" fill="#d9579b" stroke="#c8cccc" stroke-width="1.2"/>
<circle cx="2398.6" cy="1498.7" r="10.8" fill="#d9579b" stroke="#c8cccc" stroke-width="1.2"/>
<circle cx="2424.5" cy="1498.7" r="10.8" fill="#d9579b" stroke="#c8cccc" stroke-width="1.2"/>
<circle cx="2450.4" cy="1498.7" r="10.8" fill="#d9579b" stroke="#c8cccc" stroke-width="1.2"/>
<text x="2145" y="1501.7" font-size="6" fill="#888">G</text>
<circle cx="2165.0" cy="1524.9" r="10.8" fill="#d9579b" stroke="#c8cccc" stroke-width="1.2"/>
<circle cx="2190.9" cy="1524.9" r="10.8" fill="#7cc2de" stroke="#c8cccc" stroke-width="1.2"/>
<circle cx="2216.9" cy="1524.9" r="10.8" fill="#d9579b" stroke="#c8cccc" stroke-width="1.2"/>
<circle cx="2242.8" cy="1524.9" r="10.8" fill="#d9579b" stroke="#c8cccc" stroke-width="1.2"/>
<circle cx="2268.8" cy="1524.9" r="10.8" fill="#d9579b" stroke="#c8cccc" stroke-width="1.2"/>
<circle cx="2294.8" cy="1524.9" r="10.8" fill="#8e50a8" stroke="#c8cccc" stroke-width="1.2"/>
<circle cx="2320.7" cy="1524.9" r="10.8" fill="#8e50a8" stroke="#c8cccc" stroke-width="1.2"/>
<circle cx="2346.7" cy="1524.9" r="10.8" fill="#d9579b" stroke="#c8cccc" stroke-width="1.2"/>
<circle cx="2372.6" cy="1524.9" r="10.8" fill="#d9579b" stroke="#c8cccc" stroke-width="1.2"/>
<circle cx="2398.6" cy="1524.9" r="10.8" fill="#d9579b" stroke="#c8cccc" stroke-width="1.2"/>
<circle cx="2424.5" cy="1524.9" r="10.8" fill="#d9579b" stroke="#c8cccc" stroke-width="1.2"/>
<circle cx="2450.4" cy="1524.9" r="10.8" fill="#d9579b" stroke="#c8cccc" stroke-width="1.2"/>
<text x="2145" y="1527.9" font-size="6" fill="#888">H</text>
<text x="2165.0" y="1320" font-size="6" fill="#888" text-anchor="middle">1</text>
<text x="2190.9" y="1320" font-size="6" fill="#888" text-anchor="middle">2</text>
<text x="2216.9" y="1320" font-size="6" fill="#888" text-anchor="middle">3</text>
<text x="2242.8" y="1320" font-size="6" fill="#888" text-anchor="middle">4</text>
<text x="2268.8" y="1320" font-size="6" fill="#888" text-anchor="middle">5</text>
<text x="2294.8" y="1320" font-size="6" fill="#888" text-anchor="middle">6</text>
<text x="2320.7" y="1320" font-size="6" fill="#888" text-anchor="middle">7</text>
<text x="2346.7" y="1320" font-size="6" fill="#888" text-anchor="middle">8</text>
<text x="2372.6" y="1320" font-size="6" fill="#888" text-anchor="middle">9</text>
<text x="2398.6" y="1320" font-size="6" fill="#888" text-anchor="middle">10</text>
<text x="2424.5" y="1320" font-size="6" fill="#888" text-anchor="middle">11</text>
<text x="2450.4" y="1320" font-size="6" fill="#888" text-anchor="middle">12</text>
<path d="M2290.2 1578 L2354.5 1627.6 L2353.1 1920.9 L2290.2 1961 Z" fill="#cac3c1"/>
<path d="M2290.2 1578 Q2330 1600 2354.5 1627.6 L2310 1610 Z" fill="#bdb6b4" opacity="0.5"/>
<path d="M1975 1594.4 Q2120 1582 2282 1578 Q2290.2 1578 2290.2 1586 V1961 L1976 1940 Q1967.4 1939 1967.4 1930 V1603 Q1967.4 1595 1975 1594.4 Z" fill="#e8e4e2"/>
<path d="M1967.4 1603 V1930 Q1967.4 1939 1976 1940 L1982 1940 V1596 Q1970 1596 1967.4 1603Z" fill="#f4f2f0"/>
<path d="M2275 1580 H2290.2 V1961 L2275 1960 Z" fill="#d8d2d0"/>
<path d="M1967.4 1682.5 H2290.2 L2351.8 1698.6" fill="none" stroke="#4fb8a6" stroke-width="3"/>
<rect x="2000.9" y="1662.4" width="238.4" height="25.5" rx="12.7" fill="#7a7272" stroke="#4fb8a6" stroke-width="2"/>
<rect x="1992.9" y="1693.2" width="249.1" height="155.4" rx="8" fill="#f8f6f6" stroke="#dcd8d6" stroke-width="2"/>
<rect x="2022.3" y="1712" width="20.5" height="50.9" fill="#b8b2b0"/>
<rect x="2026.3" y="1716" width="12.5" height="38" rx="6" fill="#6cc4b0"/>
<rect x="2045.3" y="1712" width="20.5" height="50.9" fill="#b8b2b0"/>
<rect x="2049.3" y="1716" width="12.5" height="38" rx="6" fill="#6cc4b0"/>
<rect x="2068.3" y="1712" width="20.5" height="50.9" fill="#b8b2b0"/>
<rect x="2072.3" y="1716" width="12.5" height="38" rx="6" fill="#6cc4b0"/>
<rect x="2091.3" y="1712" width="20.5" height="50.9" fill="#b8b2b0"/>
<rect x="2095.3" y="1716" width="12.5" height="38" rx="6" fill="#6cc4b0"/>
<rect x="2114.3" y="1712" width="20.5" height="50.9" fill="#b8b2b0"/>
<rect x="2118.3" y="1716" width="12.5" height="38" rx="6" fill="#ffffff"/>
<rect x="2137.3" y="1712" width="20.5" height="50.9" fill="#b8b2b0"/>
<rect x="2141.3" y="1716" width="12.5" height="38" rx="6" fill="#ffffff"/>
<rect x="2160.3" y="1712" width="20.5" height="50.9" fill="#b8b2b0"/>
<rect x="2164.3" y="1716" width="12.5" height="38" rx="6" fill="#ffffff"/>
<rect x="2183.3" y="1712" width="20.5" height="50.9" fill="#b8b2b0"/>
<rect x="2187.3" y="1716" width="12.5" height="38" rx="6" fill="#ffffff"/>
<rect x="2018.3" y="1782.5" width="139.3" height="5.5" fill="#d04a40"/>
<rect x="2157.6" y="1782.5" width="48.2" height="5.5" fill="#cfcbca"/>
<rect x="2018.3" y="1790.8" width="139.3" height="5.5" fill="#f09050"/>
<rect x="2157.6" y="1790.8" width="48.2" height="5.5" fill="#cfcbca"/>
<rect x="2018.3" y="1799.1" width="139.3" height="5.5" fill="#5aa050"/>
<rect x="2157.6" y="1799.1" width="48.2" height="5.5" fill="#cfcbca"/>
<rect x="2018.3" y="1807.4" width="139.3" height="5.5" fill="#50a8d0"/>
<rect x="2157.6" y="1807.4" width="48.2" height="5.5" fill="#cfcbca"/>
<rect x="1994.2" y="1855.3" width="246.4" height="79" rx="8" fill="#ebe7e5" stroke="#d2cecc" stroke-width="2"/>
<rect x="1990" y="1937" width="37.7" height="10.7" rx="5" fill="#8a8484"/>
<rect x="2240.6" y="1957" width="37.4" height="9.4" rx="4.5" fill="#8a8484"/>
<path d="M2801.8 1552.1 L2909.6 1548.5 V1839.5 L2823.4 1882.6 L2801.8 1885 Z" fill="#9db142"/>
<path d="M2514.5 1561.1 L2801.8 1552.1 V1893 L2514.5 1893 Z" fill="#bdd45a"/>
<path d="M2514.5 1561.1 L2801.8 1552.1 L2909.6 1548.5 L2622 1556 Z" fill="#cadf78"/>
<path d="M2633 1451.6 L2753.3 1449.8 L2766 1552.1 L2622.2 1555.7 Z" fill="#e89a30" stroke="#c07a24" stroke-width="2"/>
<rect x="2638.4" y="1473.1" width="102.4" height="59.3" fill="#4a4444"/>
<rect x="2649.2" y="1485.7" width="77.2" height="25.1" fill="#7a9a40"/>
<rect x="2554" y="1562.9" width="7.2" height="330" fill="#4a4444"/>
<rect x="2757" y="1562.9" width="9" height="327" fill="#4a4444"/>
<path d="M2367.2 1922.1 L2485.7 1879 L2801.8 1893.4 L2679.7 1968.8 Z" fill="#7e7a78" stroke="#5e5a58" stroke-width="2"/>
<rect x="2369" y="1886.2" width="30.5" height="36" rx="3" fill="#4a4646"/>
<rect x="2658" y="1922" width="27" height="36" rx="3" fill="#4a4646"/>
<path d="M2491.1 1843 L2704.8 1835.9 L2706.6 1853.9 L2491.1 1853.9 Z" fill="#8a8590"/>
<rect x="2491.1" y="1853.9" width="215.5" height="68.2" fill="#aaa3ae"/>
<path d="M2451.6 1735.3 L2762.3 1728.1 L2769 1760 L2683.3 1783.8 L2451.6 1769.5 Z" fill="#5a5454"/>
<path d="M2451.6 1735.3 L2762.3 1728.1 L2700 1740 L2460 1745 Z" fill="#c8c8c8"/>
<rect x="2673" y="1745" width="5" height="38" fill="#e8e8e8"/>
<circle cx="2694" cy="1758" r="9" fill="#3a3636"/>
<path d="M2430 1681.4 L2683.3 1681.4 L2683.3 1738.9 L2430 1738.9 Z" fill="#dfe6e6" opacity="0.85" stroke="#c0c8c8" stroke-width="1.5"/>
<line x1="2520.0" y1="1690" x2="2520.0" y2="1738" stroke="#f4f6f8" stroke-width="2.5"/>
<line x1="2526.3" y1="1690" x2="2526.3" y2="1738" stroke="#f4f6f8" stroke-width="2.5"/>
<line x1="2532.6" y1="1690" x2="2532.6" y2="1738" stroke="#f4f6f8" stroke-width="2.5"/>
<line x1="2538.9" y1="1690" x2="2538.9" y2="1738" stroke="#f4f6f8" stroke-width="2.5"/>
<line x1="2545.2" y1="1690" x2="2545.2" y2="1738" stroke="#f4f6f8" stroke-width="2.5"/>
<line x1="2551.5" y1="1690" x2="2551.5" y2="1738" stroke="#f4f6f8" stroke-width="2.5"/>
<line x1="2557.8" y1="1690" x2="2557.8" y2="1738" stroke="#f4f6f8" stroke-width="2.5"/>
<line x1="2564.1" y1="1690" x2="2564.1" y2="1738" stroke="#f4f6f8" stroke-width="2.5"/>
<line x1="2570.4" y1="1690" x2="2570.4" y2="1738" stroke="#f4f6f8" stroke-width="2.5"/>
<line x1="2576.7" y1="1690" x2="2576.7" y2="1738" stroke="#f4f6f8" stroke-width="2.5"/>
<line x1="2583.0" y1="1690" x2="2583.0" y2="1738" stroke="#f4f6f8" stroke-width="2.5"/>
<line x1="2589.3" y1="1690" x2="2589.3" y2="1738" stroke="#f4f6f8" stroke-width="2.5"/>
<line x1="2595.6" y1="1690" x2="2595.6" y2="1738" stroke="#f4f6f8" stroke-width="2.5"/>
<line x1="2601.9" y1="1690" x2="2601.9" y2="1738" stroke="#f4f6f8" stroke-width="2.5"/>
<line x1="2608.2" y1="1690" x2="2608.2" y2="1738" stroke="#f4f6f8" stroke-width="2.5"/>
<line x1="2614.5" y1="1690" x2="2614.5" y2="1738" stroke="#f4f6f8" stroke-width="2.5"/>
<line x1="2620.8" y1="1690" x2="2620.8" y2="1738" stroke="#f4f6f8" stroke-width="2.5"/>
<line x1="2627.1" y1="1690" x2="2627.1" y2="1738" stroke="#f4f6f8" stroke-width="2.5"/>
<line x1="2633.4" y1="1690" x2="2633.4" y2="1738" stroke="#f4f6f8" stroke-width="2.5"/>
<line x1="2639.7" y1="1690" x2="2639.7" y2="1738" stroke="#f4f6f8" stroke-width="2.5"/>
<line x1="2646.0" y1="1690" x2="2646.0" y2="1738" stroke="#f4f6f8" stroke-width="2.5"/>
<line x1="2652.3" y1="1690" x2="2652.3" y2="1738" stroke="#f4f6f8" stroke-width="2.5"/>
<line x1="2658.6" y1="1690" x2="2658.6" y2="1738" stroke="#f4f6f8" stroke-width="2.5"/>
<line x1="2664.9" y1="1690" x2="2664.9" y2="1738" stroke="#f4f6f8" stroke-width="2.5"/>
<line x1="2671.2" y1="1690" x2="2671.2" y2="1738" stroke="#f4f6f8" stroke-width="2.5"/>
<line x1="2677.5" y1="1690" x2="2677.5" y2="1738" stroke="#f4f6f8" stroke-width="2.5"/>
<path d="M2683.3 1681.4 L2769.5 1677.9 L2769.5 1728 L2683.3 1738.9 Z" fill="#dce8c0" opacity="0.6"/>
<path d="M2444.4 1652.7 L2762.3 1641.9 L2769.5 1677.9 L2683.3 1688.6 L2444.4 1681.4 Z" fill="#c4c4c4" stroke="#8a8a8a" stroke-width="1.5"/>
<path d="M2444.4 1652.7 L2762.3 1641.9 L2740 1650 L2450 1660 Z" fill="#e0e0e0"/>
<circle cx="2694" cy="1674.3" r="11" fill="#3a3636"/><circle cx="2762.3" cy="1654.5" r="9" fill="#3a3636"/>
<rect x="2501.9" y="1625.8" width="206.5" height="28.7" rx="3" fill="#4a4444"/>
<line x1="2510" y1="1634" x2="2655" y2="1634" stroke="#c8c8c8" stroke-width="3" stroke-dasharray="2 4"/>
</g><g id="panel4">
<rect x="2220.6" y="120.0" width="35.2" height="23.5" fill="#e85e35"/>
<rect x="2255.8" y="120.0" width="36.5" height="23.5" fill="#f08a38"/>
<rect x="2292.3" y="120.0" width="37.6" height="23.5" fill="#f5b838"/>
<rect x="2329.9" y="120.0" width="36.4" height="23.5" fill="#e55a38"/>
<rect x="2366.3" y="120.0" width="37.7" height="23.5" fill="#a8cc40"/>
<rect x="2220.6" y="143.5" width="35.2" height="24.7" fill="#e8823c"/>
<rect x="2255.8" y="143.5" width="36.5" height="24.7" fill="#c8dc40"/>
<rect x="2292.3" y="143.5" width="37.6" height="24.7" fill="#f0dc48"/>
<rect x="2329.9" y="143.5" width="36.4" height="24.7" fill="#f4c040"/>
<rect x="2366.3" y="143.5" width="37.7" height="24.7" fill="#c8dc48"/>
<rect x="2220.6" y="168.2" width="35.2" height="24.7" fill="#e03830"/>
<rect x="2255.8" y="168.2" width="36.5" height="24.7" fill="#e55a38"/>
<rect x="2292.3" y="168.2" width="37.6" height="24.7" fill="#f0903c"/>
<rect x="2329.9" y="168.2" width="36.4" height="24.7" fill="#e8843c"/>
<rect x="2366.3" y="168.2" width="37.7" height="24.7" fill="#3c8c30"/>
<rect x="2220.6" y="192.9" width="35.2" height="24.6" fill="#e03830"/>
<rect x="2255.8" y="192.9" width="36.5" height="24.6" fill="#e03030"/>
<rect x="2292.3" y="192.9" width="37.6" height="24.6" fill="#f4b83a"/>
<rect x="2329.9" y="192.9" width="36.4" height="24.6" fill="#e8843c"/>
<rect x="2366.3" y="192.9" width="37.7" height="24.6" fill="#a0cc40"/>
<rect x="2220.6" y="217.5" width="35.2" height="24.7" fill="#e03830"/>
<rect x="2255.8" y="217.5" width="36.5" height="24.7" fill="#e03030"/>
<rect x="2292.3" y="217.5" width="37.6" height="24.7" fill="#f4b83a"/>
<rect x="2329.9" y="217.5" width="36.4" height="24.7" fill="#f4b83a"/>
<rect x="2366.3" y="217.5" width="37.7" height="24.7" fill="#f0dc48"/>
<rect x="2220.6" y="242.2" width="35.2" height="23.5" fill="#f4b83a"/>
<rect x="2255.8" y="242.2" width="36.5" height="23.5" fill="#e85a38"/>
<rect x="2292.3" y="242.2" width="37.6" height="23.5" fill="#6cb83a"/>
<rect x="2329.9" y="242.2" width="36.4" height="23.5" fill="#f0dc48"/>
<rect x="2366.3" y="242.2" width="37.7" height="23.5" fill="#e8843c"/>
<rect x="2220.6" y="265.7" width="35.2" height="24.7" fill="#4a9030"/>
<rect x="2255.8" y="265.7" width="36.5" height="24.7" fill="#f0dc48"/>
<rect x="2292.3" y="265.7" width="37.6" height="24.7" fill="#a0cc40"/>
<rect x="2329.9" y="265.7" width="36.4" height="24.7" fill="#f0dc48"/>
<rect x="2366.3" y="265.7" width="37.7" height="24.7" fill="#f0963c"/>
<rect x="2220.6" y="290.4" width="35.2" height="24.7" fill="#4a9030"/>
<rect x="2255.8" y="290.4" width="36.5" height="24.7" fill="#78c03a"/>
<rect x="2292.3" y="290.4" width="37.6" height="24.7" fill="#3c8c30"/>
<rect x="2329.9" y="290.4" width="36.4" height="24.7" fill="#f0dc48"/>
<rect x="2366.3" y="290.4" width="37.7" height="24.7" fill="#e8843c"/>
<rect x="2220.6" y="315.1" width="35.2" height="24.7" fill="#3c7c2c"/>
<rect x="2255.8" y="315.1" width="36.5" height="24.7" fill="#4a9030"/>
<rect x="2292.3" y="315.1" width="37.6" height="24.7" fill="#e03830"/>
<rect x="2329.9" y="315.1" width="36.4" height="24.7" fill="#f4c040"/>
<rect x="2366.3" y="315.1" width="37.7" height="24.7" fill="#e85a38"/>
<rect x="2220.6" y="339.8" width="35.2" height="23.5" fill="#2c5c28"/>
<rect x="2255.8" y="339.8" width="36.5" height="23.5" fill="#3a7a2c"/>
<rect x="2292.3" y="339.8" width="37.6" height="23.5" fill="#2a5c28"/>
<rect x="2329.9" y="339.8" width="36.4" height="23.5" fill="#3a6e2c"/>
<rect x="2366.3" y="339.8" width="37.7" height="23.5" fill="#78c03a"/>
<line x1="2255.8" y1="120" x2="2255.8" y2="363.3" stroke="#f4f4e8" stroke-width="2"/>
<line x1="2292.3" y1="120" x2="2292.3" y2="363.3" stroke="#f4f4e8" stroke-width="2"/>
<line x1="2329.9" y1="120" x2="2329.9" y2="363.3" stroke="#f4f4e8" stroke-width="2"/>
<line x1="2366.3" y1="120" x2="2366.3" y2="363.3" stroke="#f4f4e8" stroke-width="2"/>
<line x1="2220.6" y1="143.5" x2="2404" y2="143.5" stroke="#f4f4e8" stroke-width="2"/>
<line x1="2220.6" y1="168.2" x2="2404" y2="168.2" stroke="#f4f4e8" stroke-width="2"/>
<line x1="2220.6" y1="192.9" x2="2404" y2="192.9" stroke="#f4f4e8" stroke-width="2"/>
<line x1="2220.6" y1="217.5" x2="2404" y2="217.5" stroke="#f4f4e8" stroke-width="2"/>
<line x1="2220.6" y1="242.2" x2="2404" y2="242.2" stroke="#f4f4e8" stroke-width="2"/>
<line x1="2220.6" y1="265.7" x2="2404" y2="265.7" stroke="#f4f4e8" stroke-width="2"/>
<line x1="2220.6" y1="290.4" x2="2404" y2="290.4" stroke="#f4f4e8" stroke-width="2"/>
<line x1="2220.6" y1="315.1" x2="2404" y2="315.1" stroke="#f4f4e8" stroke-width="2"/>
<line x1="2220.6" y1="339.8" x2="2404" y2="339.8" stroke="#f4f4e8" stroke-width="2"/>
<path d="M2213.5 196.4 H2187.6 V312.8 H2213.5 M2220 149.4 H2213.5 V238.7 H2220 M2220 270.5 H2213.5 V359.8 H2220" fill="none" stroke="#8a8a8a" stroke-width="2"/>
<path d="M2266.4 118 V105.9 H2326.4 V118 M2292.3 105.9 V90.6 H2352.2 V118" fill="none" stroke="#8a8a8a" stroke-width="2"/>
<defs><linearGradient id="cr" x1="0" x2="1"><stop offset="0" stop-color="#3a9a30"/><stop offset="0.5" stop-color="#eca030"/><stop offset="1" stop-color="#d02828"/></linearGradient></defs>
<rect x="2414.5" y="89.4" width="104.7" height="12.9" fill="url(#cr)"/>
<text x="2440" y="83.5" font-size="9" fill="#999">Color range</text>
<text x="2411" y="134.8" font-size="8" font-weight="bold" fill="#444">Label A</text>
<text x="2411" y="158.8" font-size="8" font-weight="bold" fill="#444">Label B</text>
<text x="2411" y="183.6" font-size="8" font-weight="bold" fill="#444">Label C</text>
<text x="2411" y="208.2" font-size="8" font-weight="bold" fill="#444">Label D</text>
<text x="2411" y="232.8" font-size="8" font-weight="bold" fill="#444">Label E</text>
<text x="2411" y="256.9" font-size="8" font-weight="bold" fill="#444">Label F</text>
<text x="2411" y="281.0" font-size="8" font-weight="bold" fill="#444">Label G</text>
<text x="2411" y="305.8" font-size="8" font-weight="bold" fill="#444">Label H</text>
<text x="2411" y="330.5" font-size="8" font-weight="bold" fill="#444">Label I</text>
<text x="2411" y="354.6" font-size="8" font-weight="bold" fill="#444">Label J</text>
<text transform="translate(2241.2,394) rotate(-90)" font-size="8" fill="#777">Label1</text>
<text transform="translate(2277.1,394) rotate(-90)" font-size="8" fill="#777">Label2</text>
<text transform="translate(2314.1,394) rotate(-90)" font-size="8" fill="#777">Label3</text>
<text transform="translate(2351.1,394) rotate(-90)" font-size="8" fill="#777">Label4</text>
<text transform="translate(2388.2,394) rotate(-90)" font-size="8" fill="#777">Label5</text>
<text x="2753" y="192" font-size="11" font-weight="bold" fill="#444" text-anchor="middle">Distribution Curve</text>
<path d="M2551 202 V433.5 H2979" fill="none" stroke="#5a5555" stroke-width="3"/>
<line x1="2551" y1="223.3" x2="2558" y2="223.3" stroke="#5a5555" stroke-width="2"/>
<line x1="2551" y1="261" x2="2558" y2="261" stroke="#5a5555" stroke-width="2"/>
<line x1="2551" y1="300" x2="2558" y2="300" stroke="#5a5555" stroke-width="2"/>
<line x1="2551" y1="341" x2="2558" y2="341" stroke="#5a5555" stroke-width="2"/>
<line x1="2551" y1="380" x2="2558" y2="380" stroke="#5a5555" stroke-width="2"/>
<line x1="2551" y1="418.8" x2="2558" y2="418.8" stroke="#5a5555" stroke-width="2"/>
<line x1="2565.5" y1="433" x2="2565.5" y2="429" stroke="#5a5555" stroke-width="2"/>
<text x="2565.5" y="450" font-size="9" fill="#666" text-anchor="middle">-5</text>
<line x1="2605.1" y1="433" x2="2605.1" y2="429" stroke="#5a5555" stroke-width="2"/>
<text x="2605.1" y="450" font-size="9" fill="#666" text-anchor="middle">-4</text>
<line x1="2644.6" y1="433" x2="2644.6" y2="429" stroke="#5a5555" stroke-width="2"/>
<text x="2644.6" y="450" font-size="9" fill="#666" text-anchor="middle">-3</text>
<line x1="2684.2" y1="433" x2="2684.2" y2="429" stroke="#5a5555" stroke-width="2"/>
<text x="2684.2" y="450" font-size="9" fill="#666" text-anchor="middle">-2</text>
<line x1="2723.7" y1="433" x2="2723.7" y2="429" stroke="#5a5555" stroke-width="2"/>
<text x="2723.7" y="450" font-size="9" fill="#666" text-anchor="middle">-1</text>
<line x1="2763.2" y1="433" x2="2763.2" y2="429" stroke="#5a5555" stroke-width="2"/>
<text x="2763.2" y="450" font-size="9" fill="#666" text-anchor="middle">0</text>
<line x1="2802.8" y1="433" x2="2802.8" y2="429" stroke="#5a5555" stroke-width="2"/>
<text x="2802.8" y="450" font-size="9" fill="#666" text-anchor="middle">1</text>
<line x1="2842.3" y1="433" x2="2842.3" y2="429" stroke="#5a5555" stroke-width="2"/>
<text x="2842.3" y="450" font-size="9" fill="#666" text-anchor="middle">2</text>
<line x1="2881.9" y1="433" x2="2881.9" y2="429" stroke="#5a5555" stroke-width="2"/>
<text x="2881.9" y="450" font-size="9" fill="#666" text-anchor="middle">3</text>
<line x1="2921.4" y1="433" x2="2921.4" y2="429" stroke="#5a5555" stroke-width="2"/>
<text x="2921.4" y="450" font-size="9" fill="#666" text-anchor="middle">4</text>
<line x1="2961.0" y1="433" x2="2961.0" y2="429" stroke="#5a5555" stroke-width="2"/>
<text x="2961.0" y="450" font-size="9" fill="#666" text-anchor="middle">5</text>
<text x="2768" y="480" font-size="10" fill="#777" text-anchor="middle">Standard Deviations from the Mean</text>
<text transform="translate(2532,314) rotate(-90)" font-size="10" fill="#666" text-anchor="middle">Probability</text>
<path d="M2566.6 415.1 L2569.2 414.9 L2571.7 414.7 L2574.3 414.5 L2576.9 414.3 L2579.5 414.1 L2582.0 413.8 L2584.6 413.6 L2587.2 413.3 L2589.7 413.0 L2592.3 412.8 L2594.9 412.4 L2597.4 412.1 L2600.0 411.8 L2602.6 411.4 L2605.2 411.1 L2607.7 410.7 L2610.3 410.3 L2612.9 409.9 L2615.4 409.4 L2618.0 409.0 L2620.6 408.5 L2623.1 408.1 L2625.7 407.6 L2628.3 407.0 L2630.9 406.5 L2633.4 406.0 L2636.0 405.4 L2638.6 404.8 L2641.1 404.2 L2643.7 403.6 L2646.3 403.0 L2648.9 402.4 L2651.4 401.7 L2654.0 401.0 L2656.6 400.4 L2659.1 399.7 L2661.7 399.0 L2664.3 398.3 L2666.8 397.5 L2669.4 396.8 L2672.0 396.1 L2674.6 395.3 L2677.1 394.6 L2679.7 393.8 L2682.3 393.1 L2684.8 392.3 L2687.4 391.6 L2690.0 390.8 L2692.6 390.1 L2695.1 389.3 L2697.7 388.6 L2700.3 387.9 L2702.8 387.2 L2705.4 386.5 L2708.0 385.8 L2710.5 385.1 L2713.1 384.4 L2715.7 383.8 L2718.3 383.1 L2720.8 382.5 L2723.4 382.0 L2726.0 381.4 L2728.5 380.9 L2731.1 380.3 L2733.7 379.9 L2736.2 379.4 L2738.8 379.0 L2741.4 378.6 L2744.0 378.2 L2746.5 377.9 L2749.1 377.6 L2751.7 377.3 L2754.2 377.1 L2756.8 376.9 L2759.4 376.8 L2762.0 376.6 L2764.5 376.6 L2767.1 376.5 L2769.7 376.5 L2772.2 376.5 L2774.8 376.6 L2777.4 376.7 L2779.9 376.9 L2782.5 377.0 L2785.1 377.2 L2787.7 377.5 L2790.2 377.8 L2792.8 378.1 L2795.4 378.5 L2797.9 378.8 L2800.5 379.3 L2803.1 379.7 L2805.7 380.2 L2808.2 380.7 L2810.8 381.2 L2813.4 381.8 L2815.9 382.3 L2818.5 382.9 L2821.1 383.6 L2823.6 384.2 L2826.2 384.9 L2828.8 385.5 L2831.4 386.2 L2833.9 386.9 L2836.5 387.6 L2839.1 388.4 L2841.6 389.1 L2844.2 389.8 L2846.8 390.6 L2849.3 391.3 L2851.9 392.1 L2854.5 392.8 L2857.1 393.6 L2859.6 394.3 L2862.2 395.1 L2864.8 395.8 L2867.3 396.6 L2869.9 397.3 L2872.5 398.0 L2875.1 398.7 L2877.6 399.4 L2880.2 400.1 L2882.8 400.8 L2885.3 401.5 L2887.9 402.1 L2890.5 402.8 L2893.0 403.4 L2895.6 404.0 L2898.2 404.6 L2900.8 405.2 L2903.3 405.8 L2905.9 406.3 L2908.5 406.9 L2911.0 407.4 L2913.6 407.9 L2916.2 408.4 L2918.8 408.9 L2921.3 409.3 L2923.9 409.7 L2926.5 410.2 L2929.0 410.6 L2931.6 411.0 L2934.2 411.3 L2936.7 411.7 L2939.3 412.0 L2941.9 412.3 L2944.5 412.7 L2947.0 412.9 L2949.6 413.2 L2952.2 413.5 L2954.7 413.8 L2957.3 414.0 L2959.9 414.2 L2962.4 414.4 L2965.0 414.6 L2967.6 414.8 L2970.2 415.0 L2972.7 415.2 L2975.3 415.4" fill="none" stroke="#eea033" stroke-width="3.2"/>
<path d="M2566.6 419.5 L2569.2 419.5 L2571.7 419.4 L2574.3 419.4 L2576.9 419.3 L2579.5 419.3 L2582.0 419.2 L2584.6 419.1 L2587.2 419.0 L2589.7 418.9 L2592.3 418.8 L2594.9 418.6 L2597.4 418.4 L2600.0 418.2 L2602.6 417.9 L2605.2 417.6 L2607.7 417.1 L2610.3 416.6 L2612.9 415.9 L2615.4 415.1 L2618.0 414.1 L2620.6 412.9 L2623.1 411.3 L2625.7 409.4 L2628.3 407.2 L2630.9 404.5 L2633.4 401.2 L2636.0 397.4 L2638.6 393.0 L2641.1 387.9 L2643.7 382.0 L2646.3 375.5 L2648.9 368.3 L2651.4 360.4 L2654.0 352.2 L2656.6 343.8 L2659.1 335.7 L2661.7 328.4 L2664.3 322.4 L2666.8 318.4 L2669.4 316.6 L2672.0 317.4 L2674.6 320.7 L2677.1 326.0 L2679.7 332.9 L2682.3 340.7 L2684.8 349.1 L2687.4 357.4 L2690.0 365.4 L2692.6 372.9 L2695.1 379.7 L2697.7 385.8 L2700.3 391.1 L2702.8 395.8 L2705.4 399.9 L2708.0 403.3 L2710.5 406.2 L2713.1 408.6 L2715.7 410.7 L2718.3 412.3 L2720.8 413.7 L2723.4 414.8 L2726.0 415.7 L2728.5 416.4 L2731.1 416.9 L2733.7 417.4 L2736.2 417.8 L2738.8 418.1 L2741.4 418.3 L2744.0 418.5 L2746.5 418.7 L2749.1 418.9 L2751.7 419.0 L2754.2 419.1 L2756.8 419.2 L2759.4 419.2 L2762.0 419.3 L2764.5 419.4 L2767.1 419.4 L2769.7 419.5 L2772.2 419.5 L2774.8 419.5 L2777.4 419.6 L2779.9 419.6 L2782.5 419.6 L2785.1 419.6 L2787.7 419.7 L2790.2 419.7 L2792.8 419.7 L2795.4 419.7 L2797.9 419.7 L2800.5 419.7 L2803.1 419.7 L2805.7 419.8 L2808.2 419.8 L2810.8 419.8 L2813.4 419.8 L2815.9 419.8 L2818.5 419.8 L2821.1 419.8 L2823.6 419.8 L2826.2 419.8 L2828.8 419.8 L2831.4 419.8 L2833.9 419.8 L2836.5 419.8 L2839.1 419.8 L2841.6 419.8 L2844.2 419.8 L2846.8 419.8 L2849.3 419.9 L2851.9 419.9 L2854.5 419.9 L2857.1 419.9 L2859.6 419.9 L2862.2 419.9 L2864.8 419.9 L2867.3 419.9 L2869.9 419.9 L2872.5 419.9 L2875.1 419.9 L2877.6 419.9 L2880.2 419.9 L2882.8 419.9 L2885.3 419.9 L2887.9 419.9 L2890.5 419.9 L2893.0 419.9 L2895.6 419.9 L2898.2 419.9 L2900.8 419.9 L2903.3 419.9 L2905.9 419.9 L2908.5 419.9 L2911.0 419.9 L2913.6 419.9 L2916.2 419.9 L2918.8 419.9 L2921.3 419.9 L2923.9 419.9 L2926.5 419.9 L2929.0 419.9 L2931.6 419.9 L2934.2 419.9 L2936.7 419.9 L2939.3 419.9 L2941.9 419.9 L2944.5 419.9 L2947.0 419.9 L2949.6 419.9 L2952.2 419.9 L2954.7 419.9 L2957.3 419.9 L2959.9 419.9 L2962.4 419.9 L2965.0 419.9 L2967.6 419.9 L2970.2 419.9 L2972.7 419.9 L2975.3 419.9" fill="none" stroke="#3ea63e" stroke-width="3.2"/>
<path d="M2566.6 419.7 L2569.2 419.7 L2571.7 419.7 L2574.3 419.7 L2576.9 419.7 L2579.5 419.7 L2582.0 419.6 L2584.6 419.6 L2587.2 419.6 L2589.7 419.6 L2592.3 419.6 L2594.9 419.5 L2597.4 419.5 L2600.0 419.5 L2602.6 419.4 L2605.2 419.4 L2607.7 419.4 L2610.3 419.3 L2612.9 419.2 L2615.4 419.2 L2618.0 419.1 L2620.6 419.0 L2623.1 418.9 L2625.7 418.8 L2628.3 418.6 L2630.9 418.4 L2633.4 418.3 L2636.0 418.0 L2638.6 417.8 L2641.1 417.5 L2643.7 417.2 L2646.3 416.9 L2648.9 416.5 L2651.4 416.0 L2654.0 415.5 L2656.6 414.9 L2659.1 414.3 L2661.7 413.6 L2664.3 412.8 L2666.8 411.9 L2669.4 411.0 L2672.0 409.9 L2674.6 408.8 L2677.1 407.5 L2679.7 406.2 L2682.3 404.7 L2684.8 403.1 L2687.4 401.4 L2690.0 399.5 L2692.6 397.6 L2695.1 395.5 L2697.7 393.3 L2700.3 391.0 L2702.8 388.5 L2705.4 386.0 L2708.0 383.4 L2710.5 380.6 L2713.1 377.8 L2715.7 374.9 L2718.3 371.9 L2720.8 369.0 L2723.4 365.9 L2726.0 362.9 L2728.5 359.9 L2731.1 357.0 L2733.7 354.1 L2736.2 351.3 L2738.8 348.6 L2741.4 346.1 L2744.0 343.8 L2746.5 341.8 L2749.1 339.9 L2751.7 338.4 L2754.2 337.2 L2756.8 336.3 L2759.4 335.7 L2762.0 335.5 L2764.5 335.7 L2767.1 336.2 L2769.7 337.0 L2772.2 338.2 L2774.8 339.7 L2777.4 341.5 L2779.9 343.6 L2782.5 345.9 L2785.1 348.3 L2787.7 351.0 L2790.2 353.8 L2792.8 356.6 L2795.4 359.6 L2797.9 362.6 L2800.5 365.6 L2803.1 368.6 L2805.7 371.6 L2808.2 374.6 L2810.8 377.5 L2813.4 380.3 L2815.9 383.1 L2818.5 385.7 L2821.1 388.3 L2823.6 390.7 L2826.2 393.0 L2828.8 395.3 L2831.4 397.3 L2833.9 399.3 L2836.5 401.2 L2839.1 402.9 L2841.6 404.5 L2844.2 406.0 L2846.8 407.4 L2849.3 408.6 L2851.9 409.8 L2854.5 410.9 L2857.1 411.8 L2859.6 412.7 L2862.2 413.5 L2864.8 414.2 L2867.3 414.9 L2869.9 415.4 L2872.5 416.0 L2875.1 416.4 L2877.6 416.8 L2880.2 417.2 L2882.8 417.5 L2885.3 417.8 L2887.9 418.0 L2890.5 418.2 L2893.0 418.4 L2895.6 418.6 L2898.2 418.7 L2900.8 418.9 L2903.3 419.0 L2905.9 419.1 L2908.5 419.2 L2911.0 419.2 L2913.6 419.3 L2916.2 419.3 L2918.8 419.4 L2921.3 419.4 L2923.9 419.5 L2926.5 419.5 L2929.0 419.5 L2931.6 419.6 L2934.2 419.6 L2936.7 419.6 L2939.3 419.6 L2941.9 419.6 L2944.5 419.7 L2947.0 419.7 L2949.6 419.7 L2952.2 419.7 L2954.7 419.7 L2957.3 419.7 L2959.9 419.7 L2962.4 419.7 L2965.0 419.7 L2967.6 419.7 L2970.2 419.8 L2972.7 419.8 L2975.3 419.8" fill="none" stroke="#c23a3e" stroke-width="3.2"/>
<path d="M2566.6 419.8 L2569.2 419.8 L2571.7 419.8 L2574.3 419.8 L2576.9 419.8 L2579.5 419.8 L2582.0 419.8 L2584.6 419.7 L2587.2 419.7 L2589.7 419.7 L2592.3 419.7 L2594.9 419.7 L2597.4 419.7 L2600.0 419.7 L2602.6 419.7 L2605.2 419.7 L2607.7 419.6 L2610.3 419.6 L2612.9 419.6 L2615.4 419.6 L2618.0 419.6 L2620.6 419.5 L2623.1 419.5 L2625.7 419.5 L2628.3 419.4 L2630.9 419.4 L2633.4 419.4 L2636.0 419.3 L2638.6 419.3 L2641.1 419.2 L2643.7 419.2 L2646.3 419.1 L2648.9 419.0 L2651.4 419.0 L2654.0 418.9 L2656.6 418.8 L2659.1 418.7 L2661.7 418.5 L2664.3 418.4 L2666.8 418.2 L2669.4 418.0 L2672.0 417.8 L2674.6 417.5 L2677.1 417.2 L2679.7 416.8 L2682.3 416.3 L2684.8 415.8 L2687.4 415.1 L2690.0 414.2 L2692.6 413.2 L2695.1 412.0 L2697.7 410.5 L2700.3 408.8 L2702.8 406.6 L2705.4 404.1 L2708.0 401.1 L2710.5 397.6 L2713.1 393.5 L2715.7 388.8 L2718.3 383.3 L2720.8 377.0 L2723.4 370.0 L2726.0 362.1 L2728.5 353.3 L2731.1 343.6 L2733.7 333.2 L2736.2 322.0 L2738.8 310.3 L2741.4 298.2 L2744.0 286.3 L2746.5 274.8 L2749.1 264.4 L2751.7 255.7 L2754.2 249.2 L2756.8 245.3 L2759.4 244.5 L2762.0 246.7 L2764.5 251.8 L2767.1 259.4 L2769.7 269.0 L2772.2 279.9 L2774.8 291.7 L2777.4 303.7 L2779.9 315.6 L2782.5 327.1 L2785.1 338.0 L2787.7 348.1 L2790.2 357.4 L2792.8 365.8 L2795.4 373.3 L2797.9 380.0 L2800.5 385.9 L2803.1 391.0 L2805.7 395.5 L2808.2 399.3 L2810.8 402.6 L2813.4 405.3 L2815.9 407.7 L2818.5 409.6 L2821.1 411.2 L2823.6 412.6 L2826.2 413.7 L2828.8 414.6 L2831.4 415.4 L2833.9 416.0 L2836.5 416.5 L2839.1 417.0 L2841.6 417.3 L2844.2 417.6 L2846.8 417.9 L2849.3 418.1 L2851.9 418.3 L2854.5 418.5 L2857.1 418.6 L2859.6 418.7 L2862.2 418.8 L2864.8 418.9 L2867.3 419.0 L2869.9 419.1 L2872.5 419.1 L2875.1 419.2 L2877.6 419.3 L2880.2 419.3 L2882.8 419.3 L2885.3 419.4 L2887.9 419.4 L2890.5 419.5 L2893.0 419.5 L2895.6 419.5 L2898.2 419.5 L2900.8 419.6 L2903.3 419.6 L2905.9 419.6 L2908.5 419.6 L2911.0 419.6 L2913.6 419.7 L2916.2 419.7 L2918.8 419.7 L2921.3 419.7 L2923.9 419.7 L2926.5 419.7 L2929.0 419.7 L2931.6 419.7 L2934.2 419.8 L2936.7 419.8 L2939.3 419.8 L2941.9 419.8 L2944.5 419.8 L2947.0 419.8 L2949.6 419.8 L2952.2 419.8 L2954.7 419.8 L2957.3 419.8 L2959.9 419.8 L2962.4 419.8 L2965.0 419.8 L2967.6 419.8 L2970.2 419.8 L2972.7 419.8 L2975.3 419.8" fill="none" stroke="#3a7cc4" stroke-width="3.2"/>
<polygon points="2288.1,445.8 2400.2,496.1 2401.6,806.4 2289.5,851" fill="#8a8282" stroke="#5e5858" stroke-width="2"/>
<polygon points="2137.2,455.9 2288.1,445.8 2289.5,851 2137.2,840.9" fill="#b2acaa" stroke="#7a7474" stroke-width="1.5"/>
<polygon points="2137.2,455.9 2153,455 2153,842 2137.2,840.9" fill="#d6d2d0"/>
<polygon points="2273.7,447 2288.1,445.8 2289.5,851 2273.7,850" fill="#c2bcba"/>
<rect x="2154.5" y="460.2" width="117.8" height="67.5" fill="#5c5656"/>
<rect x="2154.5" y="527.7" width="117.8" height="17.3" fill="#b8b2b0"/>
<rect x="2154.5" y="545" width="117.8" height="20" fill="#5c5656"/>
<rect x="2154.5" y="565" width="117.8" height="10.1" fill="#b8b2b0"/>
<rect x="2154.5" y="575.1" width="117.8" height="18.7" fill="#5c5656"/>
<rect x="2154.5" y="593.8" width="117.8" height="132.2" fill="#aaa4a2"/>
<rect x="2154.5" y="602.4" width="36" height="3" fill="#3a3636"/>
<circle cx="2209" cy="604" r="4" fill="#3a3636"/><circle cx="2229.2" cy="604" r="4" fill="#3a3636"/>
<rect x="2247.3" y="595" width="4" height="15" fill="#3a3636"/><rect x="2261.7" y="595" width="4" height="15" fill="#3a3636"/>
<polygon points="2153,726 2273.7,726 2289.5,851 2137.2,840.9" fill="#898383"/>
<circle cx="2206.2" cy="772" r="17.5" fill="#c8c4c4" stroke="#e6e2e2" stroke-width="2.5"/>
<circle cx="2206.2" cy="772" r="12" fill="#bcb8b8"/>
<rect x="2347" y="544.7" width="380.2" height="233.2" rx="8" fill="#4a4646"/>
<rect x="2363.3" y="562" width="349.3" height="197" rx="3" fill="#ffffff"/>
<path d="M2363.3 562 H2672 Q2560 700 2363.3 740 Z" fill="#e3dbd8"/>
<path d="M2580 759 Q2660 740 2712.6 694 V759 Z" fill="#e3dbd8"/>
<rect x="2515.6" y="777" width="32.4" height="50" fill="#4a4646"/>
<path d="M2486 826.5 H2572 L2591.2 847 Q2592 851 2588 851 H2469 Q2465 851 2466 847 Z" fill="#4a4646"/>
</g><g id="cycle">
<path d="M1560.2 657.0 L1549.1 658.0 L1537.8 659.2 L1526.6 660.7 L1515.3 662.5 L1504.1 664.6 L1492.8 667.0 L1481.6 669.7 L1470.5 672.7 L1459.4 676.0 L1448.4 679.6 L1437.5 683.5 L1426.8 687.7 L1416.1 692.2 L1405.6 697.0 L1395.3 702.2 L1385.2 707.6 L1375.3 713.4 L1365.6 719.4 L1356.1 725.8 L1346.8 732.5 L1337.9 739.6 L1329.2 746.9 L1320.8 754.6 L1312.7 762.5 L1304.9 770.8 L1297.4 779.3 L1290.2 788.1 L1283.3 797.1 L1276.8 806.4 L1270.6 816.0 L1264.7 825.8 L1259.2 835.8 L1254.0 846.1 L1249.2 856.5 L1244.8 867.2 L1240.7 878.1 L1237.0 889.1 L1233.7 900.3 L1230.8 911.7" fill="none" stroke="#5f8d50" stroke-width="19"/>
<polygon points="1201.5,903.4 1257.9,915.4 1217.4,964.9" fill="#5f8d50"/>
<path d="M1240.6 1180.8 L1244.0 1191.9 L1247.9 1202.8 L1252.2 1213.3 L1256.9 1223.5 L1262.1 1233.5 L1267.7 1243.1 L1273.6 1252.5 L1279.9 1261.5 L1286.6 1270.3 L1293.7 1278.7 L1301.0 1286.9 L1308.7 1294.8 L1316.7 1302.5 L1324.9 1309.8 L1333.5 1316.9 L1342.2 1323.7 L1351.3 1330.2 L1360.5 1336.4 L1370.0 1342.4 L1379.7 1348.1 L1389.5 1353.6 L1399.5 1358.8 L1409.7 1363.7 L1420.0 1368.4 L1430.5 1372.9 L1441.0 1377.0 L1451.6 1381.0 L1462.4 1384.7 L1473.1 1388.1 L1484.0 1391.3 L1494.9 1394.2 L1505.7 1397.0 L1516.6 1399.5 L1527.5 1401.7 L1538.4 1403.7 L1549.3 1405.5 L1560.0 1407.1 L1570.8 1408.4 L1581.4 1409.6" fill="none" stroke="#c13a37" stroke-width="19"/>
<polygon points="1581.2,1381.4 1578.1,1438.5 1637.7,1412" fill="#c13a37"/>
<path d="M1805.4 1320.3 L1816.7 1310.6 L1827.7 1300.3 L1838.4 1289.5 L1848.7 1278.2 L1858.7 1266.5 L1868.2 1254.3 L1877.4 1241.7 L1886.1 1228.8 L1894.3 1215.5 L1902.0 1201.9 L1909.2 1188.0 L1915.8 1173.8 L1921.9 1159.4 L1927.4 1144.8 L1932.3 1130.0 L1936.5 1115.1 L1940.1 1100.0 L1943.0 1084.9 L1945.1 1069.6 L1946.6 1054.4 L1947.2 1039.1 L1947.1 1023.8 L1946.3 1008.5 L1944.7 993.3 L1942.4 978.2 L1939.4 963.1 L1935.8 948.2 L1931.5 933.4 L1926.7 918.7 L1921.3 904.2 L1915.3 889.9 L1908.8 875.8 L1901.9 861.9 L1894.5 848.2 L1886.7 834.7 L1878.7 821.5 L1870.4 808.4 L1862.1 795.6 L1853.7 782.8" fill="none" stroke="#4b65a2" stroke-width="19"/>
<polygon points="1832.9,801.3 1879.9,766.7 1820.6,738.2" fill="#4b65a2"/>
<circle cx="1219.4" cy="1066" r="77.2" fill="#c25a5a"/>
<circle cx="1680.5" cy="716" r="77.2" fill="#668a52"/>
<circle cx="1722" cy="1388.5" r="77.2" fill="#4a7095"/>
<path d="M1227.7 1022.2 L1230.5 1022.2 L1230.5 1105.5 L1215.5 1105.5 L1215.5 1042.2 L1195.5 1044.4 L1195.5 1034.4 Z" fill="#f6f8f4"/>
<text class="n" x="1681" y="757" stroke="#f4f7f2" stroke-width="2.2">3</text>
<text class="n" x="1723" y="1427" stroke="#f4f7f2" stroke-width="2.2">2</text>
</g>
<g id="labels">
<text class="t" transform="translate(131.1,1005) scale(0.9764,1)">1. Design cell-free reaction on demand</text>
<text class="t" transform="translate(61.9,2072) scale(0.9809,1)">2. Cell-free reaction in different containers</text>
<text class="t" transform="translate(2043,2074) scale(0.9807,1)">3. Make samples &amp; test results</text>
<text class="t" transform="translate(2072,1003) scale(0.9774,1)">4. Processing test results &amp; machine learning</text>
<text class="t" x="1543" y="605.5">Test</text>
<text class="t" transform="translate(1455,1077) scale(0.993,1)">DBT Cycle</text>
<text class="t" transform="translate(1047,1201) scale(0.989,1)">Design</text>
<text class="t" x="1547" y="1529">Build</text>
</g>
</svg>
</body></html>
